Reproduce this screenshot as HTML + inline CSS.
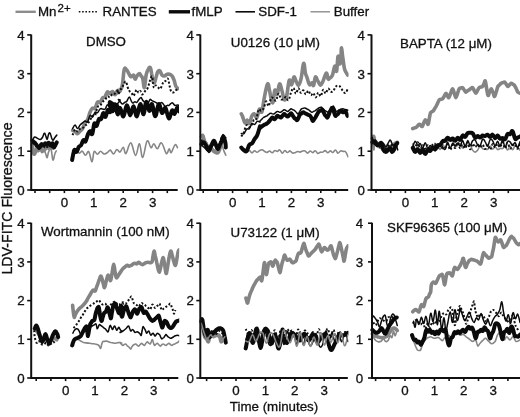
<!DOCTYPE html>
<html><head><meta charset="utf-8"><title>LDV-FITC Fluorescence</title>
<style>html,body{margin:0;padding:0;background:#fff;}body{width:520px;height:417px;overflow:hidden;font-family:"Liberation Sans",sans-serif;}</style></head>
<body>
<svg width="520" height="417" viewBox="0 0 520 417" style="display:block;will-change:transform;filter:grayscale(1)" font-family="'Liberation Sans', sans-serif" font-size="13.33" fill="#111"><style>text{stroke:#111;stroke-width:0.3px;}</style>
<g><clipPath id="cp1"><rect x="0" y="0" width="179.0" height="417"/></clipPath>
<g clip-path="url(#cp1)">
<path d="M32.3 147.1C32.7 147.6 33.5 149.8 34.2 149.9C35.0 150.1 35.4 147.7 36.2 148.0C36.9 148.4 37.3 151.7 38.1 151.9C38.8 152.0 39.3 148.8 40.0 149.0C40.7 149.2 41.2 152.6 41.9 152.8C42.6 153.0 43.1 149.8 43.8 149.9C44.6 150.1 45.1 152.3 45.7 153.8C46.4 155.2 46.6 158.0 47.2 157.6C47.7 157.2 47.9 153.5 48.6 151.9C49.4 150.2 50.2 147.4 51.0 149.0C51.8 150.5 52.2 159.1 52.9 160.0C53.7 160.9 54.2 155.5 54.9 153.8C55.5 152.0 56.0 151.4 56.3 150.9" fill="none" stroke="#868686" stroke-width="1.6" stroke-linejoin="round" stroke-linecap="round"/>
<path d="M72.6 150.5C73.2 150.3 74.6 148.5 75.8 149.0C77.0 149.5 77.8 152.7 79.0 153.1C80.3 153.5 81.0 150.8 82.3 151.2C83.5 151.6 84.3 155.2 85.5 155.3C86.7 155.4 87.5 150.4 88.7 151.6C90.0 152.9 91.0 161.8 92.0 161.8C93.0 161.8 93.1 153.1 94.1 151.6C95.2 150.2 96.1 154.3 97.4 154.2C98.6 154.1 99.4 151.2 100.6 151.2C101.8 151.2 102.6 153.7 103.9 154.0C105.1 154.3 105.9 153.4 107.1 152.7C108.3 152.0 109.1 149.9 110.3 150.1C111.6 150.4 112.3 154.1 113.6 154.0C114.8 153.9 115.6 149.8 116.8 149.5C118.0 149.1 118.8 152.5 120.0 152.1C121.3 151.6 122.2 147.0 123.3 147.3C124.4 147.6 124.5 154.3 126.0 153.5C127.4 152.6 128.9 142.5 130.8 142.9C132.6 143.2 133.9 155.2 135.6 155.4C137.2 155.6 138.1 143.5 139.4 143.8C140.8 144.2 141.2 157.9 142.7 157.3C144.2 156.8 145.5 142.8 147.1 141.0C148.7 139.1 149.7 147.1 151.0 147.7C152.2 148.2 152.6 143.7 153.8 143.8C155.1 144.0 155.8 148.8 157.3 148.7C158.8 148.5 159.8 142.0 161.5 142.9C163.3 143.8 164.9 152.4 166.3 153.5C167.8 154.6 168.3 148.8 169.2 148.7C170.1 148.5 170.1 153.2 171.2 152.5C172.2 151.8 173.8 145.7 175.0 144.8C176.2 143.9 177.0 147.1 177.5 147.7" fill="none" stroke="#868686" stroke-width="1.6" stroke-linejoin="round" stroke-linecap="round"/>
<path d="M32.3 144.2C32.6 146.0 33.1 152.3 33.8 153.8C34.4 155.2 34.9 153.0 35.7 151.9C36.4 150.8 36.9 148.4 37.6 148.0C38.3 147.7 38.8 149.8 39.5 149.9C40.2 150.1 40.7 148.8 41.4 149.0C42.2 149.2 42.6 150.9 43.3 150.9C44.1 150.9 44.5 149.7 45.3 149.0C46.0 148.3 46.5 147.2 47.2 147.1C47.9 147.0 48.4 148.6 49.1 148.5C49.8 148.4 50.3 146.7 51.0 146.6C51.8 146.5 52.6 147.7 52.9 148.0" fill="none" stroke="#848484" stroke-width="3.6" stroke-linejoin="round" stroke-linecap="round"/>
<path d="M72.6 130.4C73.0 130.6 74.1 130.9 75.1 131.5C76.0 132.2 76.6 133.9 77.6 133.8C78.5 133.7 79.1 132.0 80.1 131.0C81.0 130.0 81.6 130.2 82.6 128.6C83.5 127.0 84.1 124.3 85.1 122.7C86.0 121.0 86.6 121.8 87.5 119.8C88.5 117.8 89.1 114.4 90.0 112.2C91.0 110.0 91.6 108.9 92.5 108.2C93.5 107.5 94.1 109.5 95.0 108.4C96.0 107.2 96.6 103.2 97.5 102.1C98.5 101.0 99.1 103.1 100.0 102.4C101.0 101.6 101.6 99.2 102.5 98.1C103.5 97.1 104.1 98.0 105.0 96.8C106.0 95.5 106.6 92.4 107.5 91.8C108.5 91.2 109.1 93.5 110.0 93.4C111.0 93.4 111.6 91.3 112.5 91.5C113.5 91.8 114.1 94.9 115.0 94.7C116.0 94.5 116.6 91.2 117.5 90.6C118.5 89.9 119.6 91.1 120.0 91.3" fill="none" stroke="#848484" stroke-width="3.6" stroke-linejoin="round" stroke-linecap="round"/>
<path d="M120.0 90.1C119.6 90.6 117.4 92.9 117.6 92.8C117.7 92.6 120.0 91.2 120.9 89.4C121.9 87.7 122.0 87.4 122.6 83.5C123.2 79.7 123.5 71.8 124.3 69.3C125.1 66.7 125.9 69.3 126.8 70.1C127.6 70.9 128.0 72.2 128.8 73.5C129.6 74.7 130.1 76.5 131.0 76.8C131.9 77.1 132.7 74.7 133.5 75.1C134.3 75.6 134.5 79.2 135.2 79.3C135.8 79.5 136.1 77.1 136.9 76.0C137.7 74.9 138.6 73.5 139.4 73.5C140.2 73.5 140.4 75.0 141.1 76.0C141.7 76.9 142.1 76.3 142.7 78.5C143.4 80.7 143.8 88.4 144.4 87.7C145.1 87.1 145.4 78.7 146.1 75.1C146.8 71.6 147.5 70.7 148.3 69.3C149.1 67.8 149.7 66.8 150.3 67.6C150.9 68.4 151.2 71.1 151.6 73.5C152.1 75.9 152.3 78.4 152.8 80.2C153.3 81.9 153.8 83.3 154.5 82.7C155.1 82.1 155.5 78.9 156.2 76.8C156.8 74.7 157.1 72.9 157.8 71.8C158.5 70.7 159.1 70.3 159.9 70.9C160.7 71.6 161.1 74.2 162.0 75.1C162.9 76.1 163.6 76.1 164.6 76.0C165.5 75.8 166.1 74.6 167.1 74.3C168.0 74.0 168.6 74.0 169.6 74.3C170.6 74.6 171.3 74.9 172.1 76.0C173.0 77.1 173.4 78.3 174.1 80.2C174.8 82.1 175.1 84.5 175.8 86.1C176.5 87.7 177.6 88.1 178.0 88.6" fill="none" stroke="#848484" stroke-width="3.6" stroke-linejoin="round" stroke-linecap="round"/>
<path d="M32.3 143.2C32.8 143.4 33.8 143.4 34.7 144.2C35.6 145.0 36.2 146.6 37.1 147.5C38.0 148.5 38.7 149.2 39.5 149.0C40.3 148.8 40.7 146.8 41.4 146.6C42.2 146.4 42.6 148.2 43.3 148.0C44.1 147.8 44.5 145.8 45.3 145.6C46.0 145.4 46.5 147.2 47.2 147.1C47.9 147.0 48.4 145.0 49.1 145.1C49.8 145.3 50.3 147.9 51.0 148.0C51.8 148.1 52.2 145.9 52.9 145.6C53.7 145.4 54.1 146.9 54.9 146.6C55.6 146.3 56.4 144.6 56.8 144.2" fill="none" stroke="#111" stroke-width="2.0" stroke-linejoin="round" stroke-linecap="butt" stroke-dasharray="2 1.9"/>
<path d="M72.6 135.1C73.0 134.1 74.1 130.3 75.1 129.6C76.0 129.0 76.6 131.7 77.6 131.6C78.5 131.4 79.1 129.5 80.1 128.8C81.0 128.2 81.6 128.8 82.6 128.2C83.5 127.6 84.1 126.5 85.1 125.6C86.0 124.8 86.6 124.8 87.5 123.8C88.5 122.8 89.1 121.7 90.0 120.2C91.0 118.7 91.6 116.8 92.5 115.8C93.5 114.9 94.1 117.0 95.0 115.4C96.0 113.8 96.6 109.1 97.5 107.3C98.5 105.4 99.1 106.8 100.0 105.8C101.0 104.8 101.6 103.0 102.5 101.9C103.5 100.7 104.1 100.9 105.0 99.9C106.0 98.8 106.6 96.9 107.5 96.4C108.5 95.8 109.1 97.7 110.0 97.2C111.0 96.7 111.6 94.4 112.5 93.8C113.5 93.1 114.1 93.9 115.0 93.6C116.0 93.2 116.6 92.0 117.5 92.0C118.5 92.0 119.6 93.1 120.0 93.4" fill="none" stroke="#111" stroke-width="2.0" stroke-linejoin="round" stroke-linecap="butt" stroke-dasharray="2 1.9"/>
<path d="M120.0 93.3C119.4 93.0 116.9 92.4 116.7 91.7C116.6 91.0 118.3 90.2 119.2 89.5C120.2 88.9 120.9 89.4 121.8 88.3C122.6 87.3 123.0 85.4 123.8 84.1C124.6 82.8 125.2 81.0 125.9 81.6C126.7 82.2 127.0 85.4 127.6 87.2C128.3 88.9 128.6 89.7 129.3 90.8C130.0 91.9 130.7 91.9 131.5 92.8C132.3 93.8 132.8 96.0 133.5 95.9C134.2 95.8 134.5 93.5 135.2 92.3C135.8 91.2 136.2 89.7 136.9 89.8C137.5 89.8 137.9 92.5 138.5 92.7C139.2 93.0 139.6 90.7 140.2 91.0C140.9 91.3 141.3 93.9 141.9 94.3C142.5 94.7 142.9 93.9 143.6 93.1C144.3 92.4 144.8 91.4 145.6 90.4C146.4 89.4 146.9 89.7 147.8 87.8C148.6 85.9 149.2 82.6 150.0 80.5C150.8 78.3 151.4 75.9 152.0 76.4C152.5 76.9 152.6 80.7 153.0 82.9C153.4 85.0 153.4 87.2 154.0 87.7C154.5 88.2 155.1 85.5 155.8 85.4C156.6 85.3 157.0 86.5 157.8 87.2C158.7 87.8 159.6 89.2 160.4 88.8C161.2 88.3 161.4 86.1 162.0 84.8C162.7 83.5 163.0 82.7 163.7 81.9C164.4 81.1 164.9 81.4 165.7 80.7C166.5 80.1 167.2 77.7 167.9 78.7C168.6 79.7 169.0 83.5 169.6 86.0C170.2 88.5 170.5 90.4 171.3 91.7C172.1 92.9 172.9 92.6 173.8 92.3C174.7 92.0 175.0 90.8 175.8 90.2C176.6 89.6 177.6 89.2 178.0 89.0" fill="none" stroke="#111" stroke-width="2.0" stroke-linejoin="round" stroke-linecap="butt" stroke-dasharray="2 1.9"/>
<path d="M32.3 140.3C32.8 139.7 33.7 137.4 34.7 137.0C35.7 136.6 36.5 138.0 37.6 138.4C38.7 138.9 39.6 139.6 40.5 139.4C41.4 139.2 41.7 138.7 42.4 137.5C43.1 136.3 43.7 133.5 44.3 133.2C44.9 132.8 45.2 134.4 45.7 135.6C46.3 136.7 46.6 139.7 47.2 139.4C47.7 139.1 48.1 135.3 48.6 134.1C49.2 132.9 49.5 132.5 50.1 133.2C50.6 133.8 51.0 136.1 51.5 137.5C52.0 138.8 52.3 140.3 52.9 140.3C53.6 140.3 54.1 138.5 54.9 137.5C55.6 136.5 56.4 135.5 56.8 135.1" fill="none" stroke="#0a0a0a" stroke-width="1.5" stroke-linejoin="round" stroke-linecap="round"/>
<path d="M72.6 128.7C73.0 128.1 74.1 125.1 75.1 125.1C76.0 125.1 76.6 128.6 77.6 128.6C78.5 128.6 79.1 126.2 80.1 125.1C81.0 124.0 81.6 123.6 82.6 122.8C83.5 122.1 84.1 121.3 85.1 121.1C86.0 120.9 86.6 122.9 87.5 121.9C88.5 120.8 89.1 116.4 90.0 115.5C91.0 114.6 91.6 117.7 92.5 117.1C93.5 116.5 94.1 113.1 95.0 112.2C96.0 111.4 96.6 113.3 97.5 112.7C98.5 112.1 99.1 109.7 100.0 109.0C101.0 108.2 101.6 108.8 102.5 108.9C103.5 108.9 104.1 110.0 105.0 109.2C106.0 108.4 106.6 104.9 107.5 104.7C108.5 104.5 109.1 108.4 110.0 108.2C111.0 107.9 111.6 104.1 112.5 103.4C113.5 102.7 114.1 104.4 115.0 104.4C116.0 104.5 116.6 104.3 117.5 103.6C118.5 102.8 119.6 101.1 120.0 100.5" fill="none" stroke="#0a0a0a" stroke-width="1.5" stroke-linejoin="round" stroke-linecap="round"/>
<path d="M120.0 99.8C119.7 99.8 118.3 99.1 118.4 99.5C118.5 99.9 119.6 101.1 120.4 102.0C121.2 102.9 121.8 104.0 122.6 104.0C123.4 104.1 124.0 102.9 124.8 102.3C125.6 101.8 125.9 102.2 126.8 101.2C127.6 100.1 128.5 97.1 129.3 97.0C130.1 96.8 130.3 99.2 131.0 100.3C131.6 101.5 131.9 102.8 132.7 103.0C133.4 103.3 134.0 101.8 134.8 101.7C135.6 101.5 136.1 102.8 136.9 102.3C137.6 101.9 138.1 100.4 138.9 99.5C139.7 98.6 140.4 97.6 141.1 97.6C141.7 97.7 141.9 99.0 142.4 99.7C142.9 100.4 143.0 100.7 143.6 101.3C144.2 101.9 144.8 102.4 145.6 102.8C146.4 103.3 147.1 104.2 147.8 103.9C148.4 103.5 148.6 102.0 149.1 101.2C149.6 100.3 149.7 99.4 150.3 99.3C150.8 99.2 151.3 100.3 152.0 100.7C152.6 101.0 152.8 100.9 153.6 101.3C154.4 101.7 155.2 102.2 156.2 102.7C157.1 103.2 157.9 103.8 158.7 103.9C159.5 103.9 159.7 103.2 160.4 103.0C161.0 102.8 161.4 102.4 162.0 102.7C162.7 103.0 163.1 104.0 163.7 104.7C164.4 105.4 164.8 106.2 165.4 106.4C166.0 106.5 166.4 105.5 167.1 105.4C167.7 105.2 168.1 105.8 168.8 105.5C169.5 105.2 170.1 104.2 170.8 103.7C171.5 103.1 171.9 102.5 172.4 102.7C173.0 102.8 173.3 103.8 173.8 104.4C174.3 104.9 174.5 105.4 175.1 105.5C175.8 105.6 176.4 104.9 177.1 104.9C177.9 104.8 178.8 105.3 179.2 105.4" fill="none" stroke="#0a0a0a" stroke-width="1.5" stroke-linejoin="round" stroke-linecap="round"/>
<path d="M32.3 140.8C32.8 141.2 33.8 141.8 34.7 142.7C35.6 143.7 36.2 144.7 37.1 145.6C38.0 146.5 38.7 147.8 39.5 147.5C40.3 147.3 40.7 144.5 41.4 144.2C42.2 143.8 42.6 145.8 43.3 145.6C44.1 145.4 44.5 143.4 45.3 143.2C46.0 143.0 46.5 144.8 47.2 144.7C47.8 144.6 48.0 142.6 48.6 142.7C49.3 142.9 49.8 145.5 50.5 145.6C51.3 145.7 51.8 142.9 52.5 143.2C53.1 143.6 53.3 147.4 53.9 147.5C54.5 147.7 55.3 145.2 55.8 144.2C56.4 143.2 56.6 142.6 56.8 142.3" fill="none" stroke="#0a0a0a" stroke-width="4.0" stroke-linejoin="round" stroke-linecap="round"/>
<path d="M72.1 160.0C72.5 158.1 73.5 151.6 74.4 150.0C75.2 148.5 75.7 152.5 76.6 151.9C77.4 151.3 78.0 148.1 78.8 146.9C79.7 145.6 80.2 146.6 81.0 145.3C81.9 144.1 82.4 141.1 83.3 140.3C84.1 139.6 84.7 142.4 85.5 141.4C86.4 140.3 86.9 136.9 87.7 134.9C88.6 133.0 89.1 131.3 90.0 131.1C90.8 130.9 91.3 135.4 92.2 134.0C93.0 132.6 93.6 125.1 94.4 123.5C95.3 122.0 95.8 126.8 96.7 125.9C97.5 125.1 98.0 120.4 98.9 119.1C99.7 117.7 100.3 120.2 101.1 119.1C102.0 117.9 102.5 113.4 103.3 113.0C104.2 112.5 104.7 117.4 105.6 116.8C106.4 116.2 107.0 110.9 107.8 110.0C108.7 109.1 109.2 112.3 110.0 112.2C110.9 112.1 111.4 110.1 112.3 109.5C113.1 108.9 113.7 110.1 114.5 109.2C115.3 108.4 115.9 104.5 116.7 105.0C117.6 105.4 118.5 110.4 119.0 111.7" fill="none" stroke="#0a0a0a" stroke-width="4.0" stroke-linejoin="round" stroke-linecap="round"/>
<path d="M119.0 110.4C117.3 108.8 111.2 101.9 110.0 102.1C108.8 102.2 111.6 110.7 112.5 111.1C113.5 111.5 114.1 103.5 115.0 104.2C116.0 104.8 116.6 113.5 117.6 114.3C118.5 115.0 119.0 107.6 120.1 108.0C121.2 108.5 122.2 117.0 123.4 116.5C124.7 115.9 125.5 105.5 126.8 105.3C128.1 105.1 128.9 115.2 130.1 115.4C131.4 115.6 132.2 106.1 133.5 106.3C134.8 106.5 135.6 116.8 136.9 116.4C138.1 115.9 138.9 104.5 140.2 104.1C141.5 103.7 142.5 114.7 143.6 114.3C144.7 113.9 145.0 102.6 146.1 102.0C147.2 101.3 148.3 110.5 149.4 110.9C150.6 111.3 150.9 103.0 152.0 104.0C153.1 105.0 154.0 116.3 155.3 116.3C156.6 116.3 157.4 104.6 158.7 104.0C160.0 103.4 160.8 112.3 162.0 113.0C163.3 113.8 164.1 106.9 165.4 107.9C166.7 108.9 167.5 117.9 168.8 118.4C170.0 118.9 171.0 111.2 172.1 110.3C173.2 109.5 173.7 114.4 174.6 113.9C175.6 113.4 176.3 108.1 177.1 107.7C178.0 107.2 178.8 110.7 179.2 111.4" fill="none" stroke="#0a0a0a" stroke-width="4.0" stroke-linejoin="round" stroke-linecap="round"/>
</g>
<path d="M31.2 34.4 V190.0 H177.7" fill="none" stroke="#111" stroke-width="2"/>
<path d="M31.2 190.0 h-4" stroke="#111" stroke-width="1.6"/>
<text x="24.7" y="194.8" text-anchor="end">0</text>
<path d="M31.2 151.2 h-4" stroke="#111" stroke-width="1.6"/>
<text x="24.7" y="156.0" text-anchor="end">1</text>
<path d="M31.2 112.4 h-4" stroke="#111" stroke-width="1.6"/>
<text x="24.7" y="117.2" text-anchor="end">2</text>
<path d="M31.2 73.7 h-4" stroke="#111" stroke-width="1.6"/>
<text x="24.7" y="78.5" text-anchor="end">3</text>
<path d="M31.2 34.9 h-4" stroke="#111" stroke-width="1.6"/>
<text x="24.7" y="39.7" text-anchor="end">4</text>
<path d="M35.0 190.0 v3.1" stroke="#111" stroke-width="1.6"/>
<path d="M49.7 190.0 v3.1" stroke="#111" stroke-width="1.6"/>
<path d="M64.4 190.0 v3.1" stroke="#111" stroke-width="1.6"/>
<path d="M79.1 190.0 v3.1" stroke="#111" stroke-width="1.6"/>
<path d="M93.8 190.0 v3.1" stroke="#111" stroke-width="1.6"/>
<path d="M108.5 190.0 v3.1" stroke="#111" stroke-width="1.6"/>
<path d="M123.2 190.0 v3.1" stroke="#111" stroke-width="1.6"/>
<path d="M137.9 190.0 v3.1" stroke="#111" stroke-width="1.6"/>
<path d="M152.6 190.0 v3.1" stroke="#111" stroke-width="1.6"/>
<path d="M167.3 190.0 v3.1" stroke="#111" stroke-width="1.6"/>
<text x="64.4" y="206.9" text-anchor="middle">0</text>
<text x="93.8" y="206.9" text-anchor="middle">1</text>
<text x="123.2" y="206.9" text-anchor="middle">2</text>
<text x="152.6" y="206.9" text-anchor="middle">3</text>
<text x="86.0" y="46.0">DMSO</text></g>
<g><clipPath id="cp2"><rect x="0" y="0" width="348.6" height="417"/></clipPath>
<g clip-path="url(#cp2)">
<path d="M201.3 140.3C201.8 141.1 202.7 142.9 203.7 144.2C204.7 145.5 205.5 145.8 206.6 147.1C207.7 148.3 208.4 150.5 209.5 150.9C210.6 151.3 211.3 149.0 212.3 149.0C213.4 149.0 214.1 150.0 215.2 150.9C216.3 151.8 217.2 154.1 218.1 153.8C219.0 153.4 219.4 150.8 220.0 149.0C220.7 147.2 220.7 143.8 221.5 144.2C222.2 144.5 223.0 148.8 223.9 150.9C224.7 153.0 225.4 154.4 225.8 155.2" fill="none" stroke="#868686" stroke-width="1.6" stroke-linejoin="round" stroke-linecap="round"/>
<path d="M241.9 150.1C242.4 149.8 243.5 148.4 244.4 148.6C245.4 148.8 246.0 150.8 247.0 151.1C247.9 151.5 248.5 150.2 249.5 150.5C250.4 150.8 251.1 152.8 252.0 152.9C253.0 152.9 253.6 150.9 254.5 150.8C255.5 150.7 256.1 152.4 257.1 152.3C258.0 152.3 258.6 151.0 259.6 150.6C260.6 150.1 261.2 149.6 262.1 149.8C263.1 150.0 263.7 151.0 264.7 151.5C265.6 152.0 266.2 152.5 267.2 152.4C268.1 152.3 268.7 150.9 269.7 151.0C270.7 151.1 271.3 152.9 272.2 152.8C273.2 152.7 273.8 150.8 274.8 150.5C275.7 150.2 276.3 151.5 277.3 151.4C278.2 151.2 278.9 149.5 279.8 149.9C280.8 150.2 281.4 153.0 282.3 153.1C283.3 153.2 283.9 150.6 284.9 150.5C285.8 150.4 286.4 152.5 287.4 152.5C288.4 152.6 289.0 150.8 289.9 150.9C290.9 151.0 291.5 152.6 292.4 153.0C293.4 153.3 294.0 153.0 295.0 152.7C295.9 152.5 296.5 151.6 297.5 151.5C298.5 151.4 299.1 152.2 300.0 152.1C301.0 152.0 301.6 151.2 302.6 151.0C303.5 150.8 304.1 150.6 305.1 151.0C306.0 151.4 306.6 153.1 307.6 153.1C308.6 153.1 309.2 151.1 310.1 151.0C311.1 150.9 311.7 152.6 312.7 152.6C313.6 152.5 314.2 150.5 315.2 150.7C316.2 150.8 316.8 153.1 317.7 153.4C318.7 153.7 319.3 152.4 320.2 152.2C321.2 152.0 321.8 152.4 322.8 152.1C323.7 151.8 324.3 150.5 325.3 150.6C326.3 150.7 326.9 152.7 327.8 152.7C328.8 152.8 329.4 150.9 330.4 150.9C331.3 150.8 331.9 152.7 332.9 152.5C333.8 152.3 334.4 149.9 335.4 150.0C336.4 150.1 337.0 153.0 337.9 153.2C338.9 153.4 339.5 151.3 340.5 151.0C341.4 150.6 342.0 151.3 343.0 151.4C343.9 151.6 344.6 150.8 345.5 151.8C346.5 152.8 347.6 155.8 348.0 156.7" fill="none" stroke="#868686" stroke-width="1.6" stroke-linejoin="round" stroke-linecap="round"/>
<path d="M201.3 136.5C201.6 136.3 202.1 134.6 202.8 135.6C203.4 136.5 203.9 139.7 204.7 141.3C205.4 142.9 205.9 142.7 206.6 144.2C207.3 145.6 207.7 148.3 208.5 149.0C209.3 149.7 210.0 147.7 210.9 148.0C211.8 148.4 212.3 150.0 213.3 150.9C214.3 151.8 215.2 152.6 216.2 152.8C217.2 153.0 217.8 153.0 218.6 151.9C219.4 150.8 219.8 149.1 220.5 147.1C221.2 145.1 222.1 142.4 222.4 141.3" fill="none" stroke="#848484" stroke-width="3.6" stroke-linejoin="round" stroke-linecap="round"/>
<path d="M241.3 113.8C241.5 114.3 241.8 114.5 242.5 116.2C243.2 117.9 244.0 122.0 244.8 122.8C245.7 123.5 246.3 119.9 247.2 120.0C248.1 120.2 248.7 124.4 249.6 123.5C250.4 122.7 251.0 117.6 251.9 115.8C252.8 113.9 253.3 113.5 254.3 113.8C255.2 114.2 256.0 118.6 256.9 117.7C257.9 116.8 258.3 110.3 259.3 109.2C260.2 108.1 261.0 113.7 261.9 111.9C262.8 110.1 262.9 104.8 264.0 99.5C265.0 94.2 266.4 85.7 267.5 84.0C268.5 82.3 268.8 87.6 269.5 90.6C270.3 93.5 270.6 97.3 271.3 99.5C272.0 101.7 272.4 104.0 273.1 102.2C273.7 100.4 274.1 91.6 274.8 90.2C275.6 88.7 276.3 95.6 277.2 94.4C278.1 93.3 278.6 84.7 279.5 84.0C280.4 83.2 281.0 87.6 281.9 90.6C282.8 93.5 283.4 98.4 284.2 99.5C285.1 100.6 285.6 100.0 286.6 96.4C287.5 92.8 288.3 82.7 289.2 80.5C290.2 78.3 290.7 85.4 291.6 84.7C292.5 84.1 293.1 77.6 293.9 77.0C294.8 76.4 295.4 80.1 296.3 81.6C297.2 83.2 297.8 85.6 298.6 85.1C299.5 84.6 300.1 83.0 301.0 78.9C302.0 74.8 302.8 64.5 303.6 63.4C304.5 62.3 304.7 70.3 305.4 73.1C306.1 75.9 306.4 75.9 307.2 78.1C308.0 80.4 308.6 83.9 309.5 84.7C310.4 85.6 311.1 82.7 311.9 82.8C312.7 82.9 313.0 86.6 313.6 85.5C314.3 84.4 314.6 77.9 315.4 77.0C316.2 76.1 316.8 79.3 317.8 80.9C318.7 82.4 319.5 85.0 320.4 85.1C321.4 85.3 321.6 83.9 322.8 81.6C323.9 79.4 325.3 73.6 326.3 73.1C327.3 72.6 327.4 78.0 328.1 78.9C328.7 79.9 329.0 78.9 329.8 78.1C330.7 77.4 331.5 77.3 332.5 75.0C333.4 72.8 334.0 66.9 334.8 66.1C335.6 65.4 336.0 73.0 336.6 71.2C337.2 69.3 337.5 58.4 338.0 56.4C338.5 54.4 338.8 59.3 339.2 60.7C339.6 62.1 339.8 64.7 340.1 63.8C340.4 62.8 340.7 58.7 341.0 55.6C341.3 52.6 341.2 47.5 341.6 47.9C341.9 48.2 342.2 53.9 342.8 57.6C343.3 61.3 343.7 64.7 344.2 67.3C344.7 69.9 344.7 69.7 345.4 71.2C346.1 72.6 347.3 74.3 347.7 75.0" fill="none" stroke="#848484" stroke-width="3.6" stroke-linejoin="round" stroke-linecap="round"/>
<path d="M201.3 139.4C201.9 140.5 203.1 143.3 204.2 145.1C205.3 147.0 206.1 147.9 207.1 149.0C208.1 150.1 208.6 151.5 209.5 150.9C210.4 150.3 211.0 147.1 211.9 145.6C212.8 144.2 213.4 142.8 214.3 143.2C215.2 143.7 215.8 147.7 216.7 148.0C217.6 148.4 218.2 146.8 219.1 145.1C219.9 143.5 220.3 141.2 221.0 139.4C221.7 137.6 222.3 135.4 222.9 135.6C223.5 135.7 223.8 139.6 224.3 140.3C224.9 141.1 225.5 139.6 225.8 139.4" fill="none" stroke="#111" stroke-width="2.0" stroke-linejoin="round" stroke-linecap="butt" stroke-dasharray="2 1.9"/>
<path d="M241.3 136.5C241.8 135.7 242.9 134.7 243.8 132.6C244.7 130.5 245.3 126.3 246.3 125.2C247.2 124.2 247.8 127.2 248.8 127.3C249.7 127.3 250.3 126.9 251.2 125.6C252.2 124.3 252.8 121.6 253.7 120.4C254.7 119.2 255.3 121.4 256.2 119.3C257.2 117.3 257.8 111.3 258.7 109.7C259.6 108.0 260.2 111.0 261.2 110.7C262.1 110.5 262.7 110.0 263.7 108.2C264.6 106.5 265.2 101.9 266.1 101.4C267.1 101.0 267.7 106.6 268.6 106.0C269.6 105.3 270.2 99.5 271.1 98.0C272.0 96.6 272.6 98.0 273.6 98.4C274.5 98.9 275.1 101.4 276.1 100.5C277.0 99.6 277.6 93.9 278.5 93.7C279.5 93.4 280.1 98.2 281.0 99.2C282.0 100.2 282.6 99.3 283.5 98.9C284.5 98.5 285.1 96.8 286.0 97.0C286.9 97.2 287.5 100.9 288.5 100.1C289.4 99.2 290.0 95.0 291.0 92.8C291.9 90.5 292.5 87.9 293.4 88.1C294.4 88.2 295.0 93.5 295.9 93.6C296.9 93.6 297.5 88.5 298.4 88.3C299.3 88.2 299.9 92.4 300.9 92.8C301.8 93.2 302.4 90.1 303.4 90.4C304.3 90.7 304.9 94.3 305.8 94.3C306.8 94.4 307.4 90.6 308.3 90.7C309.3 90.9 309.9 94.6 310.8 95.1C311.8 95.5 312.4 92.6 313.3 93.1C314.2 93.5 314.8 97.5 315.8 97.4C316.7 97.3 317.3 92.9 318.3 92.7C319.2 92.5 319.8 96.7 320.7 96.2C321.7 95.6 322.3 90.4 323.2 89.8C324.2 89.3 324.8 93.6 325.7 93.4C326.6 93.2 327.2 88.9 328.2 88.6C329.1 88.3 329.7 91.2 330.7 91.6C331.6 92.1 332.2 92.0 333.2 91.1C334.1 90.2 334.7 87.8 335.6 86.7C336.6 85.7 337.2 85.5 338.1 85.6C339.1 85.7 339.7 86.1 340.6 87.2C341.5 88.3 342.1 90.2 343.1 91.3C344.0 92.4 344.6 93.5 345.6 92.9C346.5 92.3 347.6 89.1 348.0 88.2" fill="none" stroke="#111" stroke-width="2.0" stroke-linejoin="round" stroke-linecap="butt" stroke-dasharray="2 1.9"/>
<path d="M201.3 145.1C202.0 145.7 203.5 146.9 204.7 148.0C205.9 149.1 206.6 150.1 207.6 150.9C208.5 151.7 208.6 153.1 209.5 152.3C210.3 151.6 211.0 148.6 211.9 147.1C212.8 145.5 213.4 144.2 214.3 144.2C215.2 144.2 215.8 147.1 216.7 147.1C217.6 147.1 218.2 145.5 219.1 144.2C219.9 142.9 220.3 142.2 221.0 140.3C221.7 138.5 222.3 134.8 222.9 134.6C223.5 134.4 223.8 138.8 224.3 139.4C224.9 139.9 225.5 137.8 225.8 137.5" fill="none" stroke="#0a0a0a" stroke-width="1.5" stroke-linejoin="round" stroke-linecap="round"/>
<path d="M241.3 133.4C241.8 133.4 243.0 134.5 244.0 133.7C245.0 132.9 245.6 130.1 246.7 129.1C247.7 128.2 248.3 129.8 249.3 128.8C250.3 127.7 251.0 124.5 252.0 123.7C253.0 122.9 253.6 124.9 254.7 124.4C255.7 124.0 256.3 121.8 257.3 121.4C258.3 120.9 259.5 121.9 260.0 122.0" fill="none" stroke="#0a0a0a" stroke-width="1.5" stroke-linejoin="round" stroke-linecap="round"/>
<path d="M260.0 121.0C260.3 120.6 261.1 119.9 261.7 119.2C262.4 118.6 262.8 118.0 263.5 117.5C264.1 117.0 264.5 117.0 265.2 116.6C265.8 116.3 266.3 116.2 266.9 115.8C267.6 115.3 268.0 114.9 268.7 114.4C269.3 113.9 269.7 113.3 270.4 113.2C271.0 113.0 271.5 113.5 272.1 113.7C272.8 113.8 273.2 114.2 273.8 114.0C274.5 113.8 274.9 113.1 275.6 112.6C276.2 112.2 276.6 111.6 277.3 111.4C278.0 111.3 278.4 111.8 279.0 112.0C279.7 112.1 280.1 112.5 280.8 112.3C281.4 112.1 281.8 111.4 282.5 110.9C283.1 110.4 283.6 109.8 284.2 109.7C284.9 109.6 285.3 110.2 286.0 110.6C286.6 110.9 287.0 111.5 287.7 111.4C288.3 111.3 288.8 110.5 289.4 110.1C290.1 109.6 290.5 108.9 291.1 108.8C291.8 108.8 292.2 109.4 292.9 109.7C293.5 110.0 293.9 110.1 294.6 110.6C295.3 111.1 295.7 111.6 296.3 112.3C297.0 113.0 297.4 114.2 298.1 114.0C298.7 113.9 299.1 112.4 299.8 111.4C300.4 110.4 300.9 109.4 301.5 108.8C302.2 108.2 302.6 108.5 303.3 108.3C303.9 108.2 304.3 107.9 305.0 108.0C305.6 108.1 306.1 108.5 306.7 108.8C307.4 109.2 307.8 109.3 308.4 109.7C309.1 110.1 309.5 110.6 310.2 111.1C310.8 111.6 311.2 112.2 311.9 112.3C312.6 112.4 313.0 111.8 313.6 111.4C314.3 111.1 314.7 111.0 315.4 110.6C316.0 110.1 316.4 109.7 317.1 109.2C317.8 108.7 318.2 108.3 318.8 108.0C319.4 107.6 319.7 107.6 320.2 107.5C320.7 107.3 320.9 106.8 321.4 107.1C322.0 107.4 322.5 108.2 323.1 108.8C323.8 109.5 324.2 110.1 324.9 110.6C325.5 111.1 326.0 111.1 326.6 111.4C327.3 111.8 327.7 112.6 328.3 112.3C328.9 112.0 329.2 110.7 329.7 109.7C330.2 108.7 330.4 107.7 330.9 107.1C331.4 106.5 331.8 106.8 332.3 106.6C332.8 106.4 333.0 105.8 333.5 106.2C334.0 106.7 334.4 107.9 334.9 108.8C335.4 109.8 335.6 111.1 336.1 111.4C336.7 111.8 337.2 110.9 337.9 110.6C338.5 110.2 338.9 110.0 339.6 109.7C340.2 109.4 340.7 109.4 341.3 109.2C342.0 109.0 342.4 108.8 343.0 108.8C343.7 108.9 344.1 109.2 344.8 109.4C345.4 109.5 345.9 109.5 346.5 109.7C347.1 109.9 347.6 110.1 347.9 110.2" fill="none" stroke="#0a0a0a" stroke-width="1.5" stroke-linejoin="round" stroke-linecap="round"/>
<path d="M201.3 144.2C201.8 143.8 202.8 142.0 203.7 142.3C204.6 142.5 205.2 144.2 206.1 145.6C207.0 147.1 207.5 150.0 208.5 149.9C209.5 149.8 210.4 146.9 211.4 145.1C212.4 143.4 213.0 141.0 213.8 140.8C214.6 140.6 215.0 142.6 215.7 144.2C216.4 145.7 216.9 148.7 217.6 149.0C218.4 149.3 218.8 147.1 219.5 145.6C220.3 144.2 220.7 143.0 221.5 141.3C222.2 139.6 222.6 136.3 223.4 136.5C224.1 136.7 224.8 140.2 225.3 142.3C225.8 144.4 225.7 146.5 225.8 147.5" fill="none" stroke="#0a0a0a" stroke-width="4.0" stroke-linejoin="round" stroke-linecap="round"/>
<path d="M241.3 147.5C241.8 148.1 243.0 149.6 244.0 150.3C245.0 151.0 245.6 152.1 246.7 151.1C247.7 150.0 248.3 146.4 249.3 144.9C250.3 143.5 251.0 144.5 252.0 143.4C253.0 142.3 253.6 140.5 254.7 138.9C255.7 137.3 256.3 137.4 257.3 135.0C258.3 132.6 259.5 127.9 260.0 126.3" fill="none" stroke="#0a0a0a" stroke-width="4.0" stroke-linejoin="round" stroke-linecap="round"/>
<path d="M260.0 127.9C260.3 127.6 261.1 127.0 261.7 126.5C262.4 126.0 262.8 125.7 263.5 125.3C264.1 124.9 264.5 124.7 265.2 124.4C265.8 124.1 266.3 123.9 266.9 123.5C267.5 123.2 267.8 122.8 268.3 122.3C268.8 121.8 269.0 121.5 269.5 121.0C270.0 120.4 270.4 119.9 270.9 119.2C271.4 118.6 271.6 117.7 272.1 117.5C272.6 117.3 273.0 118.0 273.5 118.4C274.0 118.7 274.2 119.4 274.7 119.2C275.2 119.1 275.6 118.1 276.1 117.5C276.6 116.8 276.7 115.9 277.3 115.8C277.9 115.6 278.4 116.3 279.0 116.6C279.7 117.0 280.1 117.7 280.8 117.5C281.4 117.3 281.8 116.4 282.5 115.8C283.1 115.1 283.6 114.1 284.2 114.0C284.9 114.0 285.3 114.9 286.0 115.4C286.6 115.9 287.0 116.7 287.7 116.6C288.3 116.5 288.8 115.6 289.4 114.9C290.1 114.2 290.5 113.0 291.1 113.2C291.8 113.3 292.2 114.8 292.9 115.8C293.5 116.7 294.0 117.7 294.6 118.4C295.2 119.0 295.5 118.9 296.0 119.2C296.5 119.6 296.7 120.4 297.2 120.1C297.7 119.8 298.1 118.5 298.6 117.5C299.1 116.5 299.2 115.7 299.8 114.9C300.4 114.1 300.9 114.0 301.5 113.5C302.2 113.0 302.6 112.4 303.3 112.3C303.9 112.2 304.3 112.8 305.0 113.2C305.6 113.5 306.1 113.7 306.7 114.0C307.4 114.4 307.8 114.6 308.4 114.9C309.1 115.2 309.6 115.1 310.2 115.8C310.8 116.4 311.1 117.4 311.6 118.4C312.1 119.3 312.3 120.8 312.8 121.0C313.3 121.1 313.7 119.9 314.2 119.2C314.6 118.6 314.8 118.4 315.4 117.5C315.9 116.6 316.4 115.5 317.1 114.4C317.8 113.2 318.2 112.2 318.8 111.4C319.5 110.7 319.9 110.9 320.6 110.6C321.2 110.2 321.7 109.4 322.3 109.7C322.9 110.0 323.2 111.3 323.7 112.3C324.2 113.3 324.4 114.1 324.9 114.9C325.4 115.7 325.8 115.8 326.3 116.3C326.8 116.8 327.0 117.9 327.5 117.5C328.0 117.1 328.4 115.5 328.9 114.4C329.4 113.2 329.6 112.3 330.1 111.4C330.6 110.5 331.0 110.4 331.5 109.7C331.9 109.0 332.2 107.5 332.7 108.0C333.2 108.4 333.6 110.5 334.0 112.0C334.5 113.4 334.8 115.2 335.3 115.8C335.8 116.3 336.2 115.2 336.6 114.9C337.1 114.6 337.4 114.5 337.9 114.0C338.3 113.5 338.7 113.0 339.2 112.3C339.7 111.6 340.0 110.7 340.4 110.6C340.9 110.4 341.3 111.1 341.8 111.4C342.3 111.8 342.6 112.2 343.0 112.3C343.5 112.4 343.9 111.9 344.4 111.8C344.9 111.6 345.1 110.7 345.6 111.4C346.2 112.2 347.0 114.9 347.4 115.8" fill="none" stroke="#0a0a0a" stroke-width="4.0" stroke-linejoin="round" stroke-linecap="round"/>
</g>
<path d="M200.3 34.4 V190.0 H348.2" fill="none" stroke="#111" stroke-width="2"/>
<path d="M200.3 190.0 h-4" stroke="#111" stroke-width="1.6"/>
<text x="193.8" y="194.8" text-anchor="end">0</text>
<path d="M200.3 151.2 h-4" stroke="#111" stroke-width="1.6"/>
<text x="193.8" y="156.0" text-anchor="end">1</text>
<path d="M200.3 112.4 h-4" stroke="#111" stroke-width="1.6"/>
<text x="193.8" y="117.2" text-anchor="end">2</text>
<path d="M200.3 73.7 h-4" stroke="#111" stroke-width="1.6"/>
<text x="193.8" y="78.5" text-anchor="end">3</text>
<path d="M200.3 34.9 h-4" stroke="#111" stroke-width="1.6"/>
<text x="193.8" y="39.7" text-anchor="end">4</text>
<path d="M203.2 190.0 v3.1" stroke="#111" stroke-width="1.6"/>
<path d="M217.9 190.0 v3.1" stroke="#111" stroke-width="1.6"/>
<path d="M232.6 190.0 v3.1" stroke="#111" stroke-width="1.6"/>
<path d="M247.3 190.0 v3.1" stroke="#111" stroke-width="1.6"/>
<path d="M262.0 190.0 v3.1" stroke="#111" stroke-width="1.6"/>
<path d="M276.7 190.0 v3.1" stroke="#111" stroke-width="1.6"/>
<path d="M291.4 190.0 v3.1" stroke="#111" stroke-width="1.6"/>
<path d="M306.1 190.0 v3.1" stroke="#111" stroke-width="1.6"/>
<path d="M320.8 190.0 v3.1" stroke="#111" stroke-width="1.6"/>
<path d="M335.5 190.0 v3.1" stroke="#111" stroke-width="1.6"/>
<text x="232.6" y="206.9" text-anchor="middle">0</text>
<text x="262.0" y="206.9" text-anchor="middle">1</text>
<text x="291.4" y="206.9" text-anchor="middle">2</text>
<text x="320.8" y="206.9" text-anchor="middle">3</text>
<text x="230.8" y="47.0">U0126 (10 μM)</text></g>
<g><clipPath id="cp3"><rect x="0" y="0" width="521.0" height="417"/></clipPath>
<g clip-path="url(#cp3)">
<path d="M372.3 139.4C372.6 141.4 373.3 149.0 373.8 149.9C374.2 150.9 374.2 144.9 374.7 144.2C375.3 143.5 375.7 145.4 376.6 146.1C377.5 146.8 378.2 147.5 379.5 148.0C380.8 148.6 381.9 148.9 383.3 149.0C384.8 149.1 385.7 149.0 387.2 148.5C388.6 148.0 389.7 147.4 391.0 146.6C392.3 145.8 392.8 144.4 393.9 144.2C395.0 144.0 396.2 145.4 396.8 145.6" fill="none" stroke="#868686" stroke-width="1.6" stroke-linejoin="round" stroke-linecap="round"/>
<path d="M412.8 143.9C413.2 144.9 414.3 148.2 415.2 148.8C416.2 149.4 416.8 146.6 417.7 147.2C418.7 147.7 419.3 151.4 420.2 151.6C421.2 151.7 421.8 148.0 422.7 147.8C423.7 147.7 424.3 150.5 425.2 150.7C426.2 150.9 426.8 149.0 427.7 148.9C428.7 148.9 429.3 150.7 430.2 150.7C431.2 150.7 431.8 148.8 432.7 148.8C433.7 148.8 434.3 151.1 435.2 150.7C436.2 150.4 436.8 147.4 437.7 147.1C438.7 146.8 439.3 149.8 440.2 149.3C441.1 148.8 441.7 144.9 442.7 144.6C443.6 144.2 444.2 148.1 445.2 147.4C446.1 146.8 446.7 142.7 447.7 141.3C448.6 139.9 449.2 139.9 450.2 139.8C451.1 139.7 451.7 139.6 452.7 140.9C453.6 142.1 454.2 145.8 455.2 146.6C456.1 147.4 456.7 145.5 457.7 145.0C458.6 144.4 459.2 143.2 460.2 143.8C461.1 144.4 461.7 147.8 462.7 148.1C463.6 148.3 464.2 145.6 465.2 145.1C466.1 144.6 466.7 145.5 467.7 145.5C468.6 145.4 469.2 144.0 470.1 144.8C471.1 145.7 471.7 148.7 472.6 150.1C473.6 151.5 474.2 152.1 475.1 152.1C476.1 152.2 476.7 151.5 477.6 150.3C478.6 149.0 479.2 145.9 480.1 145.6C481.1 145.3 481.7 148.0 482.6 148.6C483.6 149.3 484.2 148.8 485.1 148.9C486.1 149.1 486.7 150.0 487.6 149.4C488.6 148.9 489.2 146.2 490.1 146.1C491.1 146.1 491.7 149.0 492.6 149.1C493.6 149.2 494.2 146.6 495.1 146.7C496.1 146.8 496.7 149.3 497.6 149.6C498.5 150.0 499.1 148.6 500.1 148.4C501.0 148.2 501.6 148.9 502.6 148.5C503.5 148.0 504.1 145.8 505.1 146.1C506.0 146.4 506.6 150.0 507.6 150.0C508.5 150.1 509.1 146.2 510.1 146.2C511.0 146.1 511.6 149.9 512.6 149.8C513.5 149.7 514.1 146.3 515.1 145.7C516.0 145.2 516.6 146.1 517.6 146.9C518.5 147.8 519.6 149.6 520.1 150.2" fill="none" stroke="#868686" stroke-width="1.6" stroke-linejoin="round" stroke-linecap="round"/>
<path d="M372.3 138.4C372.6 138.1 373.2 135.6 373.8 136.5C374.3 137.4 374.6 142.1 375.2 143.2C375.7 144.3 376.0 141.9 376.6 142.3C377.3 142.6 377.6 144.2 378.6 145.1C379.5 146.1 380.3 146.7 381.4 147.1C382.5 147.4 383.2 147.2 384.3 147.1C385.4 146.9 386.1 146.1 387.2 146.1C388.3 146.1 389.0 147.2 390.1 147.1C391.2 147.0 391.9 146.4 392.9 145.6C393.9 144.9 394.5 143.9 395.3 143.2C396.2 142.6 396.9 142.4 397.3 142.3" fill="none" stroke="#848484" stroke-width="3.6" stroke-linejoin="round" stroke-linecap="round"/>
<path d="M412.7 128.6C413.1 128.5 413.9 128.1 414.5 127.9C415.1 127.7 415.4 127.9 416.1 127.5C416.7 127.1 417.2 126.3 417.8 125.7C418.5 125.1 418.8 124.2 419.4 124.2C420.0 124.1 420.4 125.1 420.9 125.5C421.5 125.9 421.7 126.9 422.3 126.4C422.8 125.9 423.2 124.1 423.8 122.8C424.4 121.6 424.8 119.9 425.4 119.7C425.9 119.6 426.4 121.3 426.9 122.2C427.4 123.0 427.8 124.9 428.2 124.2C428.7 123.4 428.9 120.5 429.3 118.4C429.8 116.3 429.9 114.4 430.4 113.1C430.9 111.8 431.4 112.2 432.0 111.8C432.5 111.3 432.8 111.5 433.3 110.9C433.8 110.3 434.1 109.5 434.6 108.7C435.2 107.8 435.4 107.6 436.0 106.5C436.6 105.4 437.1 104.2 437.7 102.9C438.4 101.7 438.7 100.5 439.3 99.8C439.9 99.1 440.4 99.4 441.1 99.2C441.7 98.9 442.0 99.3 442.6 98.7C443.2 98.1 443.8 96.9 444.4 95.8C445.0 94.8 445.3 93.2 445.9 93.2C446.5 93.1 446.9 94.8 447.5 95.6C448.0 96.5 448.2 98.1 448.8 97.6C449.4 97.1 450.1 94.6 450.8 93.0C451.5 91.3 451.9 88.7 452.6 88.8C453.2 88.8 453.7 91.7 454.3 93.4C455.0 95.1 455.3 97.7 455.9 97.6C456.5 97.5 457.0 94.6 457.7 93.0C458.3 91.3 458.6 89.7 459.2 88.8C459.8 87.8 460.3 88.3 461.0 88.1C461.6 87.9 461.9 87.3 462.5 87.7C463.2 88.0 463.7 89.2 464.3 90.1C464.9 90.9 465.2 92.0 465.8 92.1C466.5 92.2 467.0 91.2 467.6 90.8C468.2 90.3 468.5 90.3 469.2 89.9C469.8 89.4 470.3 89.0 470.9 88.5C471.6 88.1 471.8 87.3 472.5 87.7C473.1 88.0 473.6 89.5 474.2 90.5C474.9 91.6 475.2 93.2 475.8 93.2C476.4 93.1 476.9 91.4 477.6 90.3C478.2 89.3 478.5 88.3 479.1 87.7C479.7 87.0 480.3 87.2 480.9 87.0C481.5 86.8 481.8 87.2 482.4 86.5C483.0 85.9 483.4 84.7 484.0 83.7C484.5 82.6 484.8 80.1 485.3 81.0C485.8 81.9 486.1 85.6 486.6 88.3C487.1 91.1 487.4 94.7 488.0 95.4C488.6 96.1 489.1 93.1 489.7 91.9C490.4 90.6 490.7 88.6 491.3 88.8C491.9 88.9 492.4 91.3 493.1 92.7C493.7 94.2 494.0 96.8 494.6 96.5C495.2 96.3 495.7 93.3 496.4 91.4C497.0 89.5 497.3 87.8 497.9 86.5C498.6 85.3 499.1 85.4 499.7 84.8C500.3 84.1 500.6 83.7 501.2 83.2C501.9 82.8 502.4 82.8 503.0 82.6C503.6 82.4 503.9 81.8 504.6 82.1C505.2 82.5 505.7 83.5 506.3 84.3C507.0 85.2 507.2 86.5 507.9 86.5C508.5 86.6 509.0 85.4 509.6 84.8C510.3 84.1 510.6 83.3 511.2 83.2C511.8 83.1 512.3 83.9 513.0 84.3C513.6 84.8 513.9 84.6 514.5 85.4C515.1 86.3 515.7 87.5 516.3 88.8C516.9 90.0 517.1 91.2 517.8 92.1C518.5 92.9 519.6 93.0 520.0 93.2" fill="none" stroke="#848484" stroke-width="3.6" stroke-linejoin="round" stroke-linecap="round"/>
<path d="M372.3 140.3C372.7 141.1 373.4 143.6 374.2 144.2C375.1 144.7 375.7 142.7 376.6 143.2C377.5 143.8 378.0 146.6 379.0 147.1C380.0 147.5 380.8 145.3 381.9 145.6C383.0 146.0 383.7 148.8 384.8 149.0C385.9 149.2 386.6 147.5 387.7 146.6C388.8 145.7 389.5 143.9 390.5 144.2C391.5 144.5 392.0 147.7 392.9 148.0C393.9 148.3 394.5 145.8 395.3 145.6C396.2 145.4 396.9 146.8 397.3 147.1" fill="none" stroke="#111" stroke-width="2.0" stroke-linejoin="round" stroke-linecap="butt" stroke-dasharray="2 1.9"/>
<path d="M412.8 146.1C413.2 146.3 414.3 147.9 415.2 147.2C416.2 146.4 416.8 141.9 417.7 142.2C418.7 142.5 419.3 148.3 420.2 148.8C421.2 149.4 421.8 145.2 422.7 145.2C423.7 145.1 424.3 148.6 425.2 148.6C426.2 148.6 426.8 144.9 427.7 145.2C428.7 145.5 429.3 150.3 430.2 150.2C431.2 150.0 431.8 145.6 432.7 144.4C433.7 143.2 434.3 143.3 435.2 144.0C436.2 144.7 436.8 147.8 437.7 148.0C438.7 148.2 439.3 145.1 440.2 145.2C441.1 145.3 441.7 148.0 442.7 148.5C443.6 149.0 444.2 148.5 445.2 147.8C446.1 147.0 446.7 144.0 447.7 144.4C448.6 144.8 449.2 149.8 450.2 149.9C451.1 150.0 451.7 145.4 452.7 145.0C453.6 144.7 454.2 148.5 455.2 148.0C456.1 147.5 456.7 142.5 457.7 142.6C458.6 142.6 459.2 147.7 460.2 148.1C461.1 148.5 461.7 144.7 462.7 144.7C463.6 144.8 464.2 148.8 465.2 148.4C466.1 148.0 466.7 142.5 467.7 142.7C468.6 142.9 469.2 149.1 470.1 149.3C471.1 149.5 471.7 144.2 472.6 143.8C473.6 143.4 474.2 147.2 475.1 147.2C476.1 147.3 476.7 144.2 477.6 144.2C478.6 144.2 479.2 147.2 480.1 147.2C481.1 147.3 481.7 144.3 482.6 144.6C483.6 145.0 484.2 149.1 485.1 149.1C486.1 149.1 486.7 144.7 487.6 144.8C488.6 144.8 489.2 149.7 490.1 149.5C491.1 149.4 491.7 144.6 492.6 144.1C493.6 143.7 494.2 147.4 495.1 147.3C496.1 147.3 496.7 143.9 497.6 143.9C498.5 143.9 499.1 147.6 500.1 147.3C501.0 147.0 501.6 142.1 502.6 142.3C503.5 142.5 504.1 148.2 505.1 148.3C506.0 148.4 506.6 142.8 507.6 142.8C508.5 142.9 509.1 148.1 510.1 148.5C511.0 148.9 511.6 145.7 512.6 144.9C513.5 144.2 514.1 143.9 515.1 144.6C516.0 145.3 516.6 149.1 517.6 148.8C518.5 148.6 519.6 144.4 520.1 143.4" fill="none" stroke="#111" stroke-width="2.0" stroke-linejoin="round" stroke-linecap="butt" stroke-dasharray="2 1.9"/>
<path d="M372.3 137.5C372.6 138.4 373.1 141.7 373.8 142.3C374.4 142.8 374.9 140.0 375.7 140.3C376.4 140.7 376.7 143.8 377.6 144.2C378.5 144.5 379.4 142.4 380.5 142.3C381.6 142.1 382.3 142.3 383.3 143.2C384.4 144.1 384.8 147.1 385.7 147.1C386.7 147.1 387.3 144.6 388.1 143.2C389.0 141.9 389.4 140.1 390.1 139.9C390.7 139.7 391.0 141.3 391.5 142.3C392.0 143.3 392.3 144.8 392.9 145.1C393.6 145.5 394.1 143.8 394.9 144.2C395.6 144.5 396.2 146.0 396.8 147.1C397.3 148.2 397.6 149.4 397.7 149.9" fill="none" stroke="#0a0a0a" stroke-width="1.5" stroke-linejoin="round" stroke-linecap="round"/>
<path d="M412.8 146.7C413.2 145.7 414.3 141.5 415.2 141.2C416.2 141.0 416.8 145.0 417.7 145.4C418.7 145.9 419.3 143.1 420.2 143.6C421.2 144.1 421.8 148.2 422.7 148.0C423.7 147.9 424.3 142.7 425.2 142.8C426.2 142.9 426.8 148.1 427.7 148.6C428.7 149.1 429.3 145.4 430.2 145.5C431.2 145.6 431.8 149.0 432.7 149.0C433.7 149.0 434.3 145.8 435.2 145.6C436.2 145.4 436.8 148.5 437.7 148.1C438.7 147.6 439.3 143.5 440.2 143.4C441.1 143.2 441.7 146.1 442.7 147.2C443.6 148.3 444.2 150.2 445.2 149.3C446.1 148.4 446.7 142.6 447.7 142.4C448.6 142.2 449.2 148.1 450.2 148.3C451.1 148.4 451.7 143.7 452.7 143.3C453.6 142.9 454.2 146.1 455.2 146.0C456.1 145.9 456.7 142.8 457.7 142.9C458.6 142.9 459.2 146.5 460.2 146.1C461.1 145.6 461.7 140.5 462.7 140.6C463.6 140.7 464.2 146.6 465.2 146.6C466.1 146.6 466.7 140.9 467.7 140.6C468.6 140.4 469.2 145.2 470.1 145.3C471.1 145.3 471.7 141.7 472.6 140.7C473.6 139.7 474.2 139.2 475.1 140.0C476.1 140.8 476.7 143.8 477.6 145.0C478.6 146.1 479.2 147.1 480.1 146.0C481.1 144.9 481.7 140.0 482.6 139.1C483.6 138.3 484.2 140.2 485.1 141.6C486.1 142.9 486.7 146.5 487.6 146.2C488.6 145.8 489.2 140.8 490.1 139.8C491.1 138.7 491.7 139.5 492.6 140.7C493.6 141.9 494.2 145.8 495.1 145.9C496.1 146.0 496.7 141.2 497.6 141.3C498.5 141.4 499.1 146.6 500.1 146.3C501.0 146.1 501.6 139.9 502.6 140.0C503.5 140.1 504.1 146.7 505.1 147.0C506.0 147.3 506.6 142.5 507.6 141.5C508.5 140.5 509.1 141.2 510.1 141.9C511.0 142.7 511.6 145.5 512.6 145.6C513.5 145.8 514.1 142.3 515.1 142.6C516.0 143.0 516.6 147.7 517.6 147.5C518.5 147.3 519.6 142.6 520.1 141.5" fill="none" stroke="#0a0a0a" stroke-width="1.5" stroke-linejoin="round" stroke-linecap="round"/>
<path d="M372.3 142.3C372.8 142.1 373.8 140.8 374.7 141.3C375.6 141.9 376.2 144.6 377.1 145.1C378.0 145.7 378.7 144.5 379.5 144.2C380.3 143.8 380.7 142.1 381.4 143.2C382.2 144.3 382.5 148.3 383.3 149.9C384.2 151.6 384.8 151.9 385.7 151.9C386.7 151.9 387.3 150.7 388.1 149.9C389.0 149.2 389.3 147.7 390.1 148.0C390.8 148.4 391.3 151.5 392.0 151.9C392.7 152.2 393.2 151.2 393.9 149.9C394.6 148.7 395.2 146.4 395.8 145.1C396.5 143.9 397.0 143.6 397.3 143.2" fill="none" stroke="#0a0a0a" stroke-width="4.0" stroke-linejoin="round" stroke-linecap="round"/>
<path d="M412.8 147.9C413.2 148.7 414.3 151.6 415.2 151.9C416.2 152.1 416.8 149.0 417.7 149.3C418.7 149.5 419.3 152.9 420.2 153.0C421.2 153.1 421.8 149.5 422.7 149.8C423.7 150.0 424.3 154.1 425.2 154.1C426.2 154.1 426.8 150.4 427.7 149.8C428.7 149.2 429.3 151.4 430.2 151.0C431.2 150.5 431.8 147.6 432.7 147.3C433.7 147.0 434.3 149.9 435.2 149.5C436.2 149.1 436.8 146.1 437.7 145.2C438.7 144.4 439.3 145.9 440.2 145.1C441.1 144.4 441.7 142.0 442.7 141.2C443.6 140.3 444.2 141.4 445.2 140.8C446.1 140.1 446.7 137.9 447.7 137.7C448.6 137.5 449.2 139.7 450.2 139.9C451.1 140.0 451.7 138.4 452.7 138.5C453.6 138.7 454.2 140.9 455.2 140.8C456.1 140.6 456.7 137.9 457.7 137.8C458.6 137.6 459.2 140.3 460.2 139.8C461.1 139.4 461.7 136.0 462.7 135.4C463.6 134.9 464.2 137.3 465.2 136.8C466.1 136.4 466.7 133.9 467.7 133.1C468.6 132.4 469.2 132.8 470.1 132.8C471.1 132.9 471.7 132.4 472.6 133.3C473.6 134.2 474.2 137.1 475.1 137.7C476.1 138.2 476.7 136.1 477.6 136.1C478.6 136.1 479.2 137.7 480.1 137.6C481.1 137.5 481.7 135.8 482.6 135.5C483.6 135.3 484.2 136.3 485.1 136.1C486.1 135.9 486.7 134.5 487.6 134.7C488.6 134.9 489.2 137.2 490.1 137.1C491.1 137.1 491.7 134.4 492.6 134.6C493.6 134.8 494.2 138.0 495.1 138.2C496.1 138.3 496.7 135.4 497.6 135.5C498.5 135.6 499.1 138.2 500.1 138.7C501.0 139.2 501.6 137.9 502.6 138.1C503.5 138.2 504.1 140.1 505.1 139.3C506.0 138.6 506.6 135.0 507.6 134.1C508.5 133.1 509.1 134.8 510.1 134.2C511.0 133.7 511.6 130.3 512.6 131.2C513.5 132.0 514.1 137.5 515.1 138.7C516.0 139.9 516.6 138.1 517.6 137.6C518.5 137.2 519.6 136.7 520.1 136.4" fill="none" stroke="#0a0a0a" stroke-width="4.0" stroke-linejoin="round" stroke-linecap="round"/>
</g>
<path d="M371.5 34.4 V190.0 H520.0" fill="none" stroke="#111" stroke-width="2"/>
<path d="M371.5 190.0 h-4" stroke="#111" stroke-width="1.6"/>
<text x="365.0" y="194.8" text-anchor="end">0</text>
<path d="M371.5 151.2 h-4" stroke="#111" stroke-width="1.6"/>
<text x="365.0" y="156.0" text-anchor="end">1</text>
<path d="M371.5 112.4 h-4" stroke="#111" stroke-width="1.6"/>
<text x="365.0" y="117.2" text-anchor="end">2</text>
<path d="M371.5 73.7 h-4" stroke="#111" stroke-width="1.6"/>
<text x="365.0" y="78.5" text-anchor="end">3</text>
<path d="M371.5 34.9 h-4" stroke="#111" stroke-width="1.6"/>
<text x="365.0" y="39.7" text-anchor="end">4</text>
<path d="M376.0 190.0 v3.1" stroke="#111" stroke-width="1.6"/>
<path d="M390.7 190.0 v3.1" stroke="#111" stroke-width="1.6"/>
<path d="M405.4 190.0 v3.1" stroke="#111" stroke-width="1.6"/>
<path d="M420.1 190.0 v3.1" stroke="#111" stroke-width="1.6"/>
<path d="M434.8 190.0 v3.1" stroke="#111" stroke-width="1.6"/>
<path d="M449.5 190.0 v3.1" stroke="#111" stroke-width="1.6"/>
<path d="M464.2 190.0 v3.1" stroke="#111" stroke-width="1.6"/>
<path d="M478.9 190.0 v3.1" stroke="#111" stroke-width="1.6"/>
<path d="M493.6 190.0 v3.1" stroke="#111" stroke-width="1.6"/>
<path d="M508.3 190.0 v3.1" stroke="#111" stroke-width="1.6"/>
<text x="405.4" y="206.9" text-anchor="middle">0</text>
<text x="434.8" y="206.9" text-anchor="middle">1</text>
<text x="464.2" y="206.9" text-anchor="middle">2</text>
<text x="493.6" y="206.9" text-anchor="middle">3</text>
<text x="400.0" y="48.0">BAPTA (12 μM)</text></g>
<g><clipPath id="cp4"><rect x="0" y="0" width="179.2" height="417"/></clipPath>
<g clip-path="url(#cp4)">
<path d="M34.7 330.3C35.3 331.1 36.5 332.5 37.6 334.2C38.7 335.8 39.4 337.7 40.5 339.0C41.6 340.3 42.3 340.9 43.3 340.9C44.4 340.9 45.1 338.8 46.2 339.0C47.3 339.2 48.0 341.5 49.1 341.9C50.2 342.2 50.9 341.4 52.0 340.9C53.1 340.4 53.8 339.3 54.9 339.0C56.0 338.6 57.2 339.0 57.7 339.0" fill="none" stroke="#868686" stroke-width="1.6" stroke-linejoin="round" stroke-linecap="round"/>
<path d="M78.7 339.6C79.1 339.9 80.2 340.7 81.1 341.2C82.1 341.8 82.7 342.2 83.7 342.5C84.7 342.8 85.5 342.8 86.6 342.9C87.7 343.1 88.4 343.1 89.5 343.2C90.6 343.4 91.2 343.5 92.3 343.7C93.4 343.8 94.3 343.8 95.2 344.0C96.2 344.1 96.7 344.4 97.4 344.7C98.1 344.9 98.3 344.9 98.8 345.4C99.3 345.9 99.5 346.7 99.8 347.3C100.2 347.8 100.3 348.8 100.7 348.3C101.0 347.7 101.3 345.6 101.7 344.4C102.1 343.2 102.2 342.4 102.7 341.8C103.2 341.2 103.8 341.5 104.6 341.4C105.3 341.2 105.9 341.0 106.7 341.1C107.5 341.2 108.1 341.7 108.9 341.9C109.7 342.2 110.2 342.3 111.0 342.5C111.9 342.7 112.4 342.8 113.2 342.9C114.0 343.1 114.5 343.3 115.4 343.2C116.2 343.2 116.7 342.9 117.5 342.8C118.3 342.7 118.9 342.4 119.7 342.5C120.5 342.6 121.8 343.2 121.8 343.2C121.9 343.2 120.1 342.3 120.0 342.5C119.9 342.7 120.9 343.7 121.4 344.2C122.0 344.8 122.3 345.3 122.9 345.4C123.4 345.5 123.8 344.8 124.3 344.5C124.9 344.3 125.2 343.7 125.8 344.0C126.3 344.2 126.6 345.1 127.2 345.7C127.7 346.2 128.1 346.4 128.6 346.8C129.1 347.3 129.4 347.7 129.8 348.1C130.2 348.5 130.4 349.2 130.8 349.0C131.2 348.7 131.5 347.5 131.9 346.8C132.4 346.2 132.5 345.8 132.9 345.4C133.4 345.0 133.8 344.8 134.4 344.5C134.9 344.3 135.3 343.8 135.8 344.0C136.4 344.1 136.7 344.8 137.3 345.3C137.8 345.7 138.2 346.3 138.7 346.1C139.3 346.0 139.6 345.1 140.1 344.5C140.7 344.0 141.0 343.2 141.6 343.2C142.1 343.2 142.5 344.1 143.0 344.5C143.6 344.9 143.9 345.6 144.5 345.4C145.0 345.2 145.4 344.1 145.9 343.4C146.4 342.7 146.8 341.9 147.3 341.8C147.9 341.7 148.2 342.7 148.8 343.1C149.3 343.5 149.7 344.3 150.2 344.0C150.7 343.7 151.0 342.3 151.4 341.5C151.8 340.7 152.0 339.4 152.4 339.6C152.8 339.9 153.1 341.9 153.5 342.9C153.9 344.0 154.1 345.2 154.5 345.4C155.0 345.6 155.4 344.5 156.0 344.1C156.5 343.7 156.9 343.1 157.4 343.2C158.0 343.4 158.3 344.3 158.8 344.8C159.4 345.4 159.7 346.1 160.3 346.1C160.8 346.1 161.2 345.2 161.7 344.8C162.3 344.4 162.6 344.0 163.2 344.0C163.7 344.0 164.1 344.5 164.6 344.8C165.2 345.1 165.5 345.5 166.0 345.4C166.6 345.3 166.9 344.5 167.5 344.1C168.0 343.7 168.4 343.2 168.9 343.2C169.5 343.3 169.8 344.1 170.4 344.5C170.9 344.9 171.3 345.4 171.8 345.4C172.3 345.4 172.7 344.8 173.2 344.5C173.8 344.3 174.1 344.2 174.7 344.0C175.2 343.7 175.6 343.4 176.1 343.1C176.7 342.8 176.8 343.0 177.6 342.5C178.3 342.0 179.5 340.8 180.0 340.4" fill="none" stroke="#868686" stroke-width="1.6" stroke-linejoin="round" stroke-linecap="round"/>
<path d="M34.7 329.4C35.3 329.6 36.5 329.1 37.6 330.3C38.7 331.6 39.4 334.3 40.5 336.1C41.6 337.9 42.3 339.2 43.3 339.9C44.4 340.7 45.1 339.8 46.2 339.9C47.3 340.1 48.0 340.9 49.1 340.9C50.2 340.9 50.9 340.5 52.0 339.9C53.1 339.4 53.9 338.0 54.9 338.0C55.8 338.0 56.4 339.6 56.8 339.9" fill="none" stroke="#848484" stroke-width="3.6" stroke-linejoin="round" stroke-linecap="round"/>
<path d="M72.6 305.3C72.7 306.3 72.9 308.4 73.2 310.7C73.5 312.9 73.7 316.5 74.2 317.2C74.6 317.8 74.9 315.3 75.6 314.1C76.2 312.9 76.8 311.7 77.6 310.7C78.4 309.6 78.9 309.2 79.7 308.3C80.5 307.5 81.0 307.2 81.8 306.4C82.6 305.7 83.0 305.4 83.8 304.5C84.6 303.6 85.2 303.0 86.0 301.8C86.8 300.7 87.1 299.8 87.9 298.4C88.7 297.0 89.3 296.1 90.2 294.5C91.1 293.0 91.8 291.0 92.7 290.3C93.6 289.6 94.3 291.6 95.0 291.1C95.7 290.6 95.9 289.0 96.4 287.6C97.0 286.2 97.2 285.4 97.8 283.8C98.4 282.2 98.8 280.6 99.4 279.2C100.0 277.7 100.4 275.5 101.1 276.1C101.8 276.7 102.3 280.0 102.9 282.2C103.6 284.4 103.9 287.8 104.5 287.6C105.1 287.5 105.5 283.8 106.1 281.5C106.8 279.1 107.3 276.1 107.9 275.3C108.5 274.6 108.9 276.7 109.4 277.6C109.9 278.6 110.1 281.5 110.7 280.3C111.3 279.1 111.8 274.5 112.3 271.5C112.9 268.4 113.2 264.2 113.7 264.2C114.2 264.2 114.5 268.9 115.0 271.5C115.5 274.0 115.7 276.8 116.3 277.6C116.8 278.5 117.3 276.9 117.9 276.1C118.5 275.3 118.9 274.4 119.6 273.4C120.3 272.4 120.8 271.7 121.4 270.7C122.1 269.8 122.1 269.4 123.2 268.4C124.3 267.4 125.9 265.8 127.0 265.3C128.1 264.9 128.2 266.1 129.1 266.1C129.9 266.1 130.6 265.8 131.4 265.3C132.2 264.9 132.5 264.2 133.2 263.8C133.9 263.4 134.3 263.4 135.0 263.4C135.6 263.4 136.1 264.0 136.7 263.8C137.4 263.6 137.7 262.3 138.5 262.3C139.3 262.3 140.0 263.4 140.8 263.8C141.7 264.2 142.1 264.7 142.9 264.6C143.7 264.4 144.4 263.5 145.2 263.0C146.1 262.6 146.4 262.4 147.6 262.3C148.8 262.1 150.7 263.3 151.7 262.3C152.7 261.2 152.5 259.0 152.9 256.9C153.3 254.8 153.6 251.4 154.0 251.1C154.5 250.9 154.7 253.6 155.2 255.7C155.8 257.9 156.2 259.7 156.7 262.3C157.3 264.8 157.7 267.3 158.2 269.2C158.7 271.1 158.8 272.3 159.2 272.3C159.6 272.3 159.8 271.1 160.2 269.2C160.7 267.3 161.1 264.5 161.7 262.3C162.3 260.1 162.7 257.1 163.3 257.7C163.9 258.2 164.1 262.3 164.7 265.3C165.2 268.3 165.6 272.8 166.1 273.4C166.6 274.0 166.7 271.4 167.3 268.4C167.9 265.4 168.4 260.9 169.1 257.7C169.7 254.4 170.1 251.5 170.7 251.1C171.3 250.8 171.7 253.8 172.3 255.7C172.9 257.7 173.2 259.7 173.8 261.5C174.4 263.3 174.9 265.7 175.4 265.3C176.0 265.0 176.2 262.2 176.7 259.6C177.2 257.0 177.8 253.3 178.2 251.5C178.7 249.7 178.9 250.3 179.1 250.0" fill="none" stroke="#848484" stroke-width="3.6" stroke-linejoin="round" stroke-linecap="round"/>
<path d="M34.2 330.3C34.3 331.6 34.3 334.7 34.7 337.1C35.2 339.4 35.9 342.1 36.6 342.8C37.4 343.5 37.7 340.7 38.6 340.9C39.4 341.1 40.0 343.0 40.9 343.8C41.9 344.5 42.3 344.9 43.3 344.7C44.4 344.6 45.2 342.6 46.2 342.8C47.2 343.0 47.7 345.5 48.6 345.7C49.5 345.9 50.1 344.5 51.0 343.8C51.9 343.0 52.5 341.9 53.4 341.9C54.3 341.9 55.4 343.4 55.8 343.8" fill="none" stroke="#111" stroke-width="2.0" stroke-linejoin="round" stroke-linecap="butt" stroke-dasharray="2 1.9"/>
<path d="M73.6 328.1C73.9 327.8 74.5 326.9 75.1 326.3C75.6 325.6 76.0 325.3 76.5 324.5C77.1 323.8 77.4 323.2 77.9 322.4C78.5 321.6 78.8 321.2 79.4 320.2C80.0 319.3 80.4 318.4 81.1 317.3C81.8 316.2 82.3 315.6 83.0 314.5C83.7 313.4 84.0 312.7 84.7 311.6C85.4 310.5 85.9 309.5 86.6 308.7C87.3 307.9 87.6 307.8 88.3 307.3C89.0 306.7 89.4 306.4 90.2 305.8C90.9 305.3 91.5 304.9 92.3 304.4C93.2 303.8 93.7 303.5 94.5 302.9C95.3 302.4 95.8 302.1 96.7 301.5C97.5 301.0 98.1 299.9 98.8 300.1C99.6 300.2 99.9 301.6 100.5 302.4C101.2 303.2 101.8 304.1 102.4 304.4C103.0 304.7 103.3 304.1 103.8 304.0C104.4 303.8 104.7 303.4 105.3 303.7C105.8 304.0 106.2 304.9 106.7 305.5C107.3 306.2 107.5 307.3 108.2 307.3C108.8 307.2 109.5 305.9 110.3 305.1C111.1 304.3 111.7 303.9 112.5 303.2C113.3 302.6 113.8 301.7 114.6 301.8C115.5 301.9 116.0 302.9 116.8 303.7C117.6 304.4 118.1 305.9 119.0 305.8C119.8 305.7 120.3 303.5 121.1 303.2C121.9 303.0 123.5 304.2 123.3 304.4C123.1 304.6 120.3 304.6 120.0 304.4C119.7 304.2 120.9 303.6 121.4 303.2C122.0 302.8 122.3 302.3 122.9 302.2C123.4 302.2 123.8 302.8 124.3 303.1C124.9 303.4 125.2 303.9 125.8 303.7C126.3 303.4 126.6 302.5 127.2 301.8C127.7 301.1 128.1 300.8 128.6 300.1C129.2 299.4 129.5 298.7 130.1 298.1C130.6 297.4 131.0 296.1 131.5 296.5C132.0 296.9 132.3 298.8 132.7 300.1C133.1 301.3 133.3 302.2 133.7 302.9C134.1 303.7 134.4 303.5 134.8 303.8C135.2 304.1 135.4 304.1 135.8 304.4C136.3 304.7 136.7 305.1 137.3 305.5C137.8 305.9 138.2 306.7 138.7 306.5C139.3 306.4 139.6 305.2 140.1 304.5C140.7 303.8 141.0 303.1 141.6 302.9C142.1 302.8 142.5 303.5 143.0 303.8C143.6 304.1 143.9 304.0 144.5 304.4C145.0 304.8 145.4 305.4 145.9 306.0C146.4 306.5 146.8 306.8 147.3 307.3C147.9 307.7 148.2 308.0 148.8 308.4C149.3 308.8 149.7 309.8 150.2 309.4C150.7 309.1 151.0 307.6 151.4 306.7C151.8 305.7 151.9 304.4 152.4 304.4C152.8 304.3 153.3 305.7 153.8 306.4C154.4 307.1 154.8 307.9 155.3 308.0C155.7 308.1 156.0 307.2 156.4 306.8C156.8 306.4 157.0 306.2 157.4 305.8C157.8 305.4 158.2 305.1 158.6 304.7C159.0 304.3 159.2 303.2 159.6 303.7C160.0 304.2 160.3 306.0 160.7 307.3C161.1 308.5 161.3 309.8 161.7 310.1C162.2 310.5 162.6 309.4 163.2 309.0C163.7 308.6 164.1 308.4 164.6 308.0C165.2 307.6 165.5 307.2 166.0 306.8C166.6 306.4 166.9 306.2 167.5 305.8C168.0 305.4 168.4 305.1 168.9 304.7C169.5 304.3 169.9 303.3 170.4 303.7C170.9 304.0 171.1 305.4 171.5 306.4C171.9 307.4 172.2 307.7 172.5 308.7C172.8 309.7 173.0 310.6 173.2 311.6C173.5 312.5 173.7 313.7 174.0 313.7C174.2 313.8 174.4 312.6 174.7 311.9C174.9 311.2 175.3 310.5 175.4 310.1" fill="none" stroke="#111" stroke-width="2.0" stroke-linejoin="round" stroke-linecap="butt" stroke-dasharray="2 1.9"/>
<path d="M34.7 327.5C35.2 327.7 36.2 327.0 37.1 328.4C38.0 329.9 38.6 332.8 39.5 335.1C40.4 337.5 41.0 340.7 41.9 340.9C42.8 341.1 43.4 336.6 44.3 336.1C45.2 335.6 45.8 336.7 46.7 338.0C47.6 339.3 48.2 342.6 49.1 342.8C50.0 343.0 50.6 340.6 51.5 339.0C52.4 337.3 53.0 335.3 53.9 334.2C54.8 333.1 55.5 332.9 56.3 333.2C57.1 333.6 57.9 335.6 58.2 336.1" fill="none" stroke="#0a0a0a" stroke-width="1.5" stroke-linejoin="round" stroke-linecap="round"/>
<path d="M72.9 333.2C73.1 332.8 73.5 331.7 73.9 331.0C74.3 330.3 74.6 330.0 75.1 329.6C75.6 329.2 76.0 328.9 76.5 328.8C77.1 328.8 77.5 328.7 77.9 329.1C78.4 329.5 78.7 330.2 79.1 331.0C79.5 331.8 79.8 332.5 80.1 333.2C80.4 333.8 80.6 334.2 80.8 334.6C81.1 335.0 81.2 335.6 81.5 335.3C81.9 335.1 82.1 333.8 82.6 333.2C83.0 332.5 83.2 332.2 83.7 331.7C84.2 331.3 84.6 331.1 85.1 330.9C85.7 330.6 86.0 330.6 86.6 330.3C87.1 330.0 87.5 329.5 88.0 329.1C88.6 328.7 88.9 328.5 89.5 328.1C90.0 327.7 90.4 327.4 90.9 327.0C91.4 326.6 91.7 326.4 92.3 326.0C93.0 325.6 93.5 325.2 94.2 324.8C94.9 324.4 95.5 323.5 95.9 323.8C96.4 324.2 96.4 325.7 96.7 326.7C96.9 327.6 97.0 328.9 97.4 328.8C97.7 328.8 98.1 327.1 98.5 326.3C98.9 325.4 99.1 324.6 99.5 324.5C100.0 324.4 100.4 325.3 101.0 325.7C101.5 326.1 101.9 326.3 102.4 326.7C103.0 327.1 103.3 327.4 103.8 327.8C104.4 328.3 104.7 328.3 105.3 328.8C105.8 329.4 106.2 330.0 106.7 330.6C107.3 331.1 107.7 332.3 108.2 331.7C108.7 331.2 108.9 328.9 109.3 327.7C109.7 326.5 109.9 325.3 110.3 325.3C110.7 325.3 111.1 326.9 111.5 327.7C111.9 328.5 112.1 329.6 112.5 329.6C112.9 329.5 113.2 328.1 113.6 327.4C114.0 326.7 114.2 325.8 114.6 326.0C115.1 326.2 115.4 327.6 115.8 328.4C116.2 329.2 116.4 330.3 116.8 330.3C117.2 330.3 117.5 329.1 117.9 328.6C118.4 328.0 118.5 327.2 119.0 327.4C119.4 327.7 119.8 329.0 120.4 329.9C120.9 330.7 121.9 331.2 121.8 331.7C121.8 332.2 119.8 332.6 120.0 332.4C120.2 332.3 121.8 331.7 122.9 331.0C124.0 330.3 124.9 329.6 125.8 328.8C126.6 328.1 126.6 327.7 127.2 327.1C127.7 326.6 128.1 325.6 128.6 326.0C129.1 326.3 129.4 327.9 129.8 328.8C130.2 329.8 130.4 330.8 130.8 331.0C131.2 331.2 131.5 330.3 131.9 330.0C132.4 329.7 132.5 329.3 132.9 329.6C133.4 329.8 133.7 330.7 134.1 331.3C134.5 331.8 134.5 332.4 135.1 332.4C135.7 332.5 136.4 331.6 137.3 331.7C138.1 331.9 138.8 332.6 139.4 333.2C140.0 333.7 140.1 334.2 140.4 334.6C140.8 335.0 141.0 336.1 141.3 335.3C141.6 334.5 141.8 331.9 142.2 330.3C142.5 328.6 142.7 327.2 143.0 326.7C143.3 326.2 143.6 327.3 143.9 327.7C144.2 328.1 144.4 328.2 144.7 328.8C145.1 329.5 145.4 330.5 145.8 331.3C146.1 332.1 146.2 333.1 146.6 333.2C147.0 333.2 147.4 332.1 147.8 331.7C148.2 331.3 148.4 330.7 148.8 331.0C149.2 331.3 149.5 332.6 149.9 333.5C150.3 334.3 150.5 335.2 150.9 335.3C151.3 335.4 151.7 334.3 152.1 333.9C152.5 333.5 152.7 333.0 153.1 333.2C153.5 333.4 153.8 334.3 154.2 334.9C154.7 335.4 154.8 336.2 155.3 336.0C155.7 335.9 156.0 334.9 156.4 334.3C156.8 333.8 157.0 333.2 157.4 333.2C157.8 333.1 158.2 333.8 158.6 334.0C159.0 334.3 159.2 334.0 159.6 334.6C160.0 335.2 160.3 336.2 160.7 337.1C161.1 337.9 161.3 338.7 161.7 338.9C162.1 339.1 162.5 338.3 162.9 338.1C163.3 337.8 163.5 337.9 163.9 337.5C164.3 337.0 164.6 336.3 165.0 335.8C165.4 335.2 165.6 334.6 166.0 334.6C166.5 334.6 166.8 335.5 167.2 335.9C167.6 336.3 167.6 336.3 168.2 336.8C168.8 337.2 169.5 338.1 170.4 338.2C171.2 338.3 171.7 337.9 172.5 337.5C173.3 337.1 173.7 336.5 174.7 336.0C175.6 335.6 176.5 335.3 177.6 335.3C178.6 335.3 179.5 335.9 180.0 336.0" fill="none" stroke="#0a0a0a" stroke-width="1.5" stroke-linejoin="round" stroke-linecap="round"/>
<path d="M34.7 328.4C35.1 327.9 35.9 325.0 36.6 325.6C37.4 326.1 37.8 328.9 38.6 331.3C39.3 333.7 39.7 336.0 40.5 338.0C41.2 340.0 41.7 342.0 42.4 341.9C43.1 341.7 43.7 338.5 44.3 337.1C44.9 335.6 45.2 333.8 45.7 334.2C46.3 334.5 46.5 337.2 47.2 339.0C47.8 340.8 48.4 343.6 49.1 343.8C49.8 344.0 50.3 341.6 51.0 339.9C51.8 338.3 52.1 336.8 52.9 335.1C53.8 333.5 54.5 331.5 55.3 331.3C56.2 331.1 56.7 333.1 57.3 334.2C57.8 335.3 58.0 336.5 58.2 337.1" fill="none" stroke="#0a0a0a" stroke-width="4.0" stroke-linejoin="round" stroke-linecap="round"/>
<path d="M72.2 345.4C72.4 344.8 72.8 343.2 73.2 342.1C73.6 341.0 73.9 340.3 74.4 339.6C74.8 339.0 75.2 338.9 75.8 338.6C76.3 338.4 76.6 338.5 77.2 338.2C77.9 337.9 78.4 337.6 79.1 337.2C79.8 336.8 80.2 336.9 80.8 336.0C81.5 335.1 81.9 333.8 82.6 332.4C83.2 331.1 83.9 329.9 84.4 328.8C85.0 327.8 85.2 327.5 85.6 327.1C86.0 326.7 86.3 325.8 86.6 326.7C86.9 327.6 87.0 329.9 87.3 331.7C87.6 333.5 87.7 336.3 88.0 336.0C88.3 335.8 88.6 332.5 89.0 330.3C89.4 328.1 89.7 326.0 90.2 324.5C90.6 323.0 90.9 323.1 91.3 322.4C91.7 321.7 91.9 321.3 92.3 320.9C92.7 320.6 93.1 320.8 93.5 320.5C93.9 320.2 94.1 320.6 94.5 319.5C94.9 318.3 95.1 316.2 95.5 314.5C95.9 312.7 96.2 311.5 96.7 310.1C97.1 308.8 97.4 308.1 97.8 307.6C98.2 307.0 98.5 306.5 98.8 307.3C99.1 308.0 99.3 309.8 99.5 311.6C99.8 313.4 100.0 315.1 100.3 316.6C100.5 318.1 100.7 318.7 101.0 319.5C101.2 320.3 101.4 321.3 101.7 320.9C102.0 320.5 102.3 318.7 102.7 317.3C103.1 316.0 103.4 314.7 103.8 313.7C104.3 312.8 104.6 312.7 105.0 312.3C105.4 311.9 105.7 312.2 106.0 311.6C106.4 311.0 106.5 309.8 106.9 309.0C107.2 308.2 107.4 307.0 107.7 307.3C108.1 307.5 108.4 309.2 108.7 310.4C109.1 311.7 109.3 312.6 109.6 313.7C109.9 314.9 110.1 315.8 110.3 316.6C110.6 317.4 110.7 319.0 111.0 318.1C111.4 317.1 111.6 313.9 112.1 311.6C112.5 309.3 112.8 307.2 113.2 305.8C113.6 304.4 113.9 304.5 114.4 304.1C114.8 303.7 115.0 303.3 115.4 303.7C115.7 304.1 115.9 305.2 116.2 306.1C116.6 307.1 116.7 307.7 117.1 308.7C117.4 309.7 117.7 310.5 118.1 311.3C118.4 312.1 118.6 313.5 119.0 313.0C119.3 312.6 119.7 310.4 120.1 309.0C120.5 307.6 120.7 305.8 121.1 305.8C121.5 305.8 121.9 307.9 122.3 309.0C122.7 310.1 123.7 311.1 123.3 311.6C122.8 312.1 120.4 311.0 120.0 311.6C119.6 312.2 120.7 313.8 121.2 314.7C121.6 315.7 121.7 317.1 122.2 316.6C122.6 316.2 122.9 313.8 123.3 312.3C123.7 310.8 123.9 309.7 124.3 308.7C124.7 307.7 125.1 307.4 125.5 307.0C125.9 306.6 126.1 306.0 126.5 306.5C126.9 307.1 127.2 308.6 127.6 309.9C128.0 311.1 128.2 311.9 128.6 313.0C129.0 314.2 129.4 315.1 129.8 315.9C130.2 316.7 130.4 317.7 130.8 317.3C131.2 317.0 131.5 315.3 131.9 314.2C132.4 313.1 132.5 312.4 132.9 311.6C133.4 310.8 133.7 310.3 134.1 309.9C134.5 309.4 134.7 309.0 135.1 309.4C135.5 309.8 135.8 311.1 136.3 311.9C136.7 312.7 136.9 313.9 137.3 313.7C137.7 313.5 138.0 311.8 138.4 310.9C138.8 309.9 139.0 309.3 139.4 308.7C139.8 308.1 140.2 307.8 140.6 307.6C141.0 307.3 141.2 306.7 141.6 307.3C142.0 307.8 142.3 309.3 142.7 310.4C143.1 311.5 143.3 312.7 143.7 313.0C144.2 313.3 144.5 312.1 144.9 311.9C145.3 311.6 145.5 311.3 145.9 311.6C146.3 311.9 146.6 312.8 147.1 313.5C147.5 314.1 147.6 314.4 148.1 315.2C148.5 315.9 148.8 316.7 149.2 317.3C149.6 318.0 149.8 318.2 150.2 318.8C150.6 319.3 151.0 319.8 151.4 320.2C151.8 320.6 152.0 320.9 152.4 320.9C152.8 321.0 153.1 320.8 153.5 320.5C153.9 320.2 154.1 319.9 154.5 319.5C154.9 319.1 155.3 318.8 155.7 318.3C156.1 317.9 156.3 317.7 156.7 317.3C157.1 317.0 157.4 316.6 157.8 316.3C158.3 316.1 158.4 315.2 158.8 315.9C159.3 316.6 159.6 318.7 160.0 320.2C160.4 321.7 160.7 322.7 161.0 323.8C161.3 325.0 161.5 325.6 161.7 326.3C162.0 326.9 162.1 327.9 162.4 327.4C162.8 326.9 163.2 325.0 163.6 323.8C164.0 322.6 164.2 321.4 164.6 320.9C165.0 320.5 165.3 321.1 165.8 321.4C166.2 321.6 166.4 321.7 166.8 322.4C167.2 323.0 167.5 324.0 167.9 324.8C168.3 325.6 168.5 326.1 168.9 326.7C169.3 327.2 169.7 327.4 170.1 327.7C170.5 328.0 170.7 328.2 171.1 328.1C171.5 328.1 171.8 327.8 172.2 327.4C172.6 327.0 172.8 326.6 173.2 326.0C173.6 325.3 174.0 324.8 174.4 324.1C174.8 323.4 175.0 322.9 175.4 322.4C175.8 321.9 176.1 321.6 176.5 321.4C177.0 321.1 176.9 321.2 177.6 320.9C178.2 320.7 179.5 320.4 180.0 320.2" fill="none" stroke="#0a0a0a" stroke-width="4.0" stroke-linejoin="round" stroke-linecap="round"/>
</g>
<path d="M31.2 222.7 V378.0 H178.3" fill="none" stroke="#111" stroke-width="2"/>
<path d="M31.2 378.0 h-4" stroke="#111" stroke-width="1.6"/>
<text x="24.7" y="382.8" text-anchor="end">0</text>
<path d="M31.2 339.3 h-4" stroke="#111" stroke-width="1.6"/>
<text x="24.7" y="344.1" text-anchor="end">1</text>
<path d="M31.2 300.6 h-4" stroke="#111" stroke-width="1.6"/>
<text x="24.7" y="305.4" text-anchor="end">2</text>
<path d="M31.2 261.9 h-4" stroke="#111" stroke-width="1.6"/>
<text x="24.7" y="266.7" text-anchor="end">3</text>
<path d="M31.2 223.2 h-4" stroke="#111" stroke-width="1.6"/>
<text x="24.7" y="228.0" text-anchor="end">4</text>
<path d="M36.2 378.0 v3.1" stroke="#111" stroke-width="1.6"/>
<path d="M50.9 378.0 v3.1" stroke="#111" stroke-width="1.6"/>
<path d="M65.6 378.0 v3.1" stroke="#111" stroke-width="1.6"/>
<path d="M80.3 378.0 v3.1" stroke="#111" stroke-width="1.6"/>
<path d="M95.0 378.0 v3.1" stroke="#111" stroke-width="1.6"/>
<path d="M109.7 378.0 v3.1" stroke="#111" stroke-width="1.6"/>
<path d="M124.4 378.0 v3.1" stroke="#111" stroke-width="1.6"/>
<path d="M139.1 378.0 v3.1" stroke="#111" stroke-width="1.6"/>
<path d="M153.8 378.0 v3.1" stroke="#111" stroke-width="1.6"/>
<path d="M168.5 378.0 v3.1" stroke="#111" stroke-width="1.6"/>
<text x="65.6" y="394.9" text-anchor="middle">0</text>
<text x="95.0" y="394.9" text-anchor="middle">1</text>
<text x="124.4" y="394.9" text-anchor="middle">2</text>
<text x="153.8" y="394.9" text-anchor="middle">3</text>
<text x="41.0" y="236.0">Wortmannin (100 nM)</text></g>
<g><clipPath id="cp5"><rect x="0" y="0" width="348.4" height="417"/></clipPath>
<g clip-path="url(#cp5)">
<path d="M201.3 322.5C201.6 323.4 202.1 324.5 202.8 327.3C203.4 330.0 203.9 334.7 204.7 336.9C205.4 339.0 205.9 337.9 206.6 338.8C207.3 339.7 207.8 342.6 208.5 341.7C209.2 340.7 209.7 335.8 210.4 334.0C211.2 332.2 211.5 331.7 212.3 332.1C213.2 332.4 213.8 335.4 214.7 335.9C215.7 336.4 216.2 334.9 217.1 334.9C218.1 334.9 218.8 334.6 219.5 335.9C220.3 337.2 220.4 341.3 221.0 341.7C221.5 342.0 222.1 338.5 222.4 337.8" fill="none" stroke="#848484" stroke-width="3.6" stroke-linejoin="round" stroke-linecap="round"/>
<path d="M245.9 298.0C246.0 298.6 246.4 299.9 246.7 300.9C247.0 301.8 247.2 303.5 247.6 303.1C247.9 302.6 248.3 300.3 248.7 298.5C249.2 296.8 249.5 295.5 250.1 293.8C250.7 292.2 251.1 291.4 251.8 290.0C252.4 288.5 252.8 287.5 253.4 286.3C254.1 285.0 254.5 284.4 255.1 283.2C255.8 282.1 256.2 281.2 256.8 280.4C257.4 279.5 257.8 279.3 258.5 278.7C259.1 278.1 259.7 277.0 260.2 277.0C260.6 277.1 260.7 278.4 261.0 279.0C261.3 279.7 261.4 281.9 261.8 280.4C262.3 278.9 262.7 274.5 263.2 271.1C263.7 267.8 263.9 263.1 264.4 262.7C264.8 262.4 265.1 267.2 265.5 269.5C266.0 271.7 266.2 274.7 266.6 274.5C266.9 274.3 267.2 270.7 267.6 268.6C267.9 266.5 268.1 264.8 268.6 263.6C269.0 262.4 269.4 262.7 269.9 262.4C270.4 262.1 270.7 261.6 271.1 261.9C271.5 262.2 271.6 263.3 271.9 264.1C272.3 264.9 272.4 266.3 272.8 266.1C273.2 265.8 273.6 263.8 274.1 262.7C274.6 261.6 274.9 260.5 275.3 260.2C275.7 260.0 275.9 260.9 276.3 261.4C276.7 261.9 276.9 261.4 277.3 262.7C277.8 264.0 278.1 266.4 278.7 268.3C279.2 270.2 279.6 272.8 280.0 272.8C280.4 272.8 280.6 269.9 281.0 268.1C281.4 266.4 281.6 265.3 282.0 263.6C282.5 261.8 282.9 260.6 283.4 259.0C283.8 257.4 284.1 255.4 284.5 255.2C285.0 255.0 285.4 257.1 285.9 258.0C286.4 259.0 286.6 259.9 287.1 260.2C287.5 260.5 287.9 259.9 288.4 259.7C288.9 259.5 289.3 259.4 289.6 259.4C289.9 259.3 289.7 259.0 290.0 259.4C290.3 259.8 290.9 260.7 291.3 261.4C291.8 262.0 292.0 262.6 292.5 262.7C293.1 262.9 293.6 262.4 294.2 262.1C294.8 261.7 295.3 262.0 295.9 261.1C296.5 260.1 296.7 258.3 297.2 256.8C297.7 255.4 297.9 254.2 298.4 253.5C298.9 252.8 299.3 253.3 299.7 253.2C300.2 253.0 300.4 253.7 300.9 252.6C301.4 251.6 301.9 249.4 302.4 247.6C303.0 245.8 303.3 243.6 303.8 243.4C304.3 243.2 304.5 245.5 305.0 246.8C305.4 248.0 305.5 248.9 306.0 250.1C306.4 251.4 306.8 252.2 307.3 253.3C307.8 254.4 307.9 255.8 308.5 256.0C309.0 256.2 309.5 255.1 310.2 254.5C310.8 253.9 311.2 253.3 311.8 252.6C312.5 252.0 312.9 251.8 313.5 251.1C314.2 250.5 314.5 250.2 315.2 249.3C315.9 248.4 316.4 247.4 317.1 246.4C317.8 245.5 318.3 243.9 318.9 244.2C319.5 244.6 319.7 246.8 320.3 248.3C320.8 249.7 321.1 251.6 321.6 251.8C322.1 252.0 322.6 250.3 323.1 249.5C323.7 248.7 323.9 247.7 324.5 247.6C325.0 247.5 325.5 248.6 326.1 249.1C326.8 249.6 327.2 250.3 327.8 250.1C328.5 249.9 328.9 248.7 329.5 247.9C330.1 247.1 330.6 245.4 331.2 245.9C331.7 246.4 331.9 248.9 332.4 250.5C332.8 252.1 333.0 253.1 333.4 254.3C333.7 255.5 334.0 256.1 334.4 256.8C334.8 257.6 335.0 258.9 335.4 258.5C335.8 258.1 336.1 256.1 336.6 254.7C337.0 253.2 337.1 252.5 337.6 251.0C338.0 249.4 338.3 248.0 338.7 246.4C339.2 244.8 339.5 242.4 339.9 242.6C340.4 242.8 340.7 245.7 341.1 247.4C341.5 249.2 341.7 250.0 342.1 251.8C342.5 253.6 342.7 255.1 343.1 256.8C343.5 258.6 343.7 261.4 344.1 261.1C344.5 260.7 344.9 257.1 345.3 254.8C345.7 252.6 345.8 251.0 346.3 249.3C346.8 247.6 347.7 246.6 348.0 245.9" fill="none" stroke="#848484" stroke-width="3.6" stroke-linejoin="round" stroke-linecap="round"/>
<path d="M201.3 320.6C201.6 321.3 202.1 322.0 202.8 324.4C203.4 326.8 203.9 330.8 204.7 333.0C205.4 335.2 205.8 335.7 206.6 335.9C207.4 336.1 208.1 334.5 209.0 334.0C209.9 333.4 210.5 333.4 211.4 333.0C212.3 332.7 212.9 331.9 213.8 332.1C214.7 332.2 215.3 334.2 216.2 334.0C217.1 333.8 217.7 331.5 218.6 331.1C219.5 330.7 220.1 331.3 221.0 332.1C221.9 332.8 222.6 333.8 223.4 334.9C224.2 336.0 224.9 337.3 225.3 337.8" fill="none" stroke="#111" stroke-width="2.0" stroke-linejoin="round" stroke-linecap="butt" stroke-dasharray="2 1.9"/>
<path d="M245.7 328.9C246.3 330.0 247.5 334.3 248.7 334.6C249.8 334.8 250.5 329.5 251.6 330.1C252.7 330.6 253.4 337.3 254.5 337.3C255.6 337.3 256.3 331.2 257.4 330.3C258.5 329.4 259.2 331.0 260.3 332.4C261.5 333.9 262.2 337.8 263.3 337.9C264.4 337.9 265.1 332.3 266.2 332.7C267.3 333.1 268.0 339.2 269.1 340.0C270.2 340.8 270.9 338.9 272.0 337.1C273.1 335.3 273.9 329.7 275.0 330.3C276.1 330.9 276.8 340.2 277.9 340.2C279.0 340.1 279.7 330.5 280.8 329.9C281.9 329.2 282.6 336.7 283.7 336.6C284.8 336.5 285.5 330.3 286.7 329.3C287.8 328.4 288.5 331.3 289.6 331.6C290.7 331.9 291.4 329.4 292.5 330.8C293.6 332.1 294.3 338.9 295.4 338.7C296.5 338.5 297.2 329.5 298.3 329.6C299.5 329.6 300.2 338.6 301.3 338.9C302.4 339.1 303.1 332.2 304.2 331.0C305.3 329.8 306.0 331.2 307.1 332.6C308.2 334.0 308.9 338.3 310.0 338.2C311.2 338.1 311.9 331.9 313.0 332.1C314.1 332.3 314.8 339.7 315.9 339.2C317.0 338.6 317.7 329.5 318.8 329.2C319.9 328.9 320.6 336.3 321.7 337.7C322.8 339.0 323.5 338.2 324.7 336.6C325.8 334.9 326.5 328.7 327.6 328.8C328.7 329.0 329.4 337.1 330.5 337.3C331.6 337.5 332.3 329.9 333.4 329.9C334.5 329.9 335.2 337.1 336.3 337.4C337.5 337.7 338.2 330.8 339.3 331.2C340.4 331.6 341.1 339.4 342.2 339.5C343.3 339.7 344.0 332.1 345.1 331.9C346.2 331.7 347.5 337.1 348.0 338.4" fill="none" stroke="#111" stroke-width="2.0" stroke-linejoin="round" stroke-linecap="butt" stroke-dasharray="2 1.9"/>
<path d="M201.3 319.6C201.5 319.4 201.8 316.8 202.3 318.6C202.7 320.5 203.1 325.5 203.7 329.2C204.4 332.8 204.9 337.1 205.6 337.8C206.4 338.5 206.8 332.8 207.6 333.0C208.3 333.2 208.7 339.1 209.5 338.8C210.2 338.4 210.6 332.0 211.4 331.1C212.2 330.2 212.9 333.8 213.8 334.0C214.7 334.2 215.3 333.0 216.2 332.1C217.1 331.2 217.7 330.1 218.6 329.2C219.5 328.3 220.2 327.1 221.0 327.3C221.8 327.4 222.1 328.0 222.9 330.1C223.7 332.3 224.8 337.1 225.3 338.8" fill="none" stroke="#0a0a0a" stroke-width="1.5" stroke-linejoin="round" stroke-linecap="round"/>
<path d="M245.7 340.9C246.3 339.2 247.7 331.5 248.9 331.9C250.1 332.2 250.9 343.1 252.1 342.9C253.3 342.8 254.1 331.6 255.3 330.9C256.5 330.2 257.3 337.5 258.5 339.3C259.7 341.1 260.5 342.0 261.7 340.3C262.9 338.6 263.7 329.9 264.9 330.3C266.1 330.7 266.9 339.7 268.1 342.4C269.3 345.2 270.1 346.4 271.3 344.7C272.5 343.0 273.3 334.2 274.5 333.4C275.7 332.5 276.5 340.0 277.7 340.0C278.9 340.1 279.7 332.8 280.9 333.7C282.1 334.5 282.9 344.8 284.1 344.4C285.3 344.0 286.1 332.4 287.3 331.6C288.5 330.8 289.3 339.8 290.5 340.2C291.7 340.6 292.5 332.8 293.7 333.6C294.9 334.4 295.7 344.7 296.9 344.4C298.1 344.0 298.9 331.6 300.1 331.7C301.3 331.8 302.1 344.4 303.3 344.8C304.5 345.2 305.3 333.7 306.5 333.7C307.7 333.8 308.5 343.8 309.7 345.3C310.9 346.8 311.7 344.1 312.9 341.9C314.1 339.6 314.9 332.9 316.1 333.6C317.3 334.4 318.1 343.7 319.3 345.8C320.5 347.9 321.2 347.5 322.5 344.7C323.7 341.9 324.4 331.9 325.7 331.1C326.9 330.2 327.6 340.0 328.9 340.4C330.1 340.8 330.8 332.7 332.1 333.1C333.3 333.5 334.0 342.6 335.3 342.5C336.5 342.4 337.2 332.9 338.5 332.7C339.7 332.6 340.4 341.8 341.6 341.8C342.9 341.8 343.6 332.8 344.8 332.8C346.1 332.7 347.4 339.8 348.0 341.5" fill="none" stroke="#0a0a0a" stroke-width="1.5" stroke-linejoin="round" stroke-linecap="round"/>
<path d="M201.3 321.5C201.5 321.1 201.8 318.3 202.3 319.6C202.7 320.9 203.2 325.3 203.7 328.2C204.3 331.1 204.6 334.4 205.2 334.9C205.7 335.5 206.0 332.0 206.6 331.1C207.1 330.2 207.5 329.1 208.0 330.1C208.6 331.2 208.8 335.9 209.5 336.9C210.1 337.8 210.7 335.7 211.4 334.9C212.1 334.2 212.4 333.9 213.3 333.0C214.2 332.1 215.1 331.1 216.2 330.1C217.3 329.2 218.1 328.5 219.1 328.2C220.1 328.0 220.6 328.2 221.5 328.7C222.3 329.3 222.7 329.4 223.4 331.1C224.0 332.8 224.4 335.6 224.8 337.8C225.3 340.0 225.6 341.7 225.8 342.6" fill="none" stroke="#0a0a0a" stroke-width="4.0" stroke-linejoin="round" stroke-linecap="round"/>
<path d="M245.7 348.4C246.4 345.5 248.0 334.2 249.4 333.2C250.8 332.1 251.7 343.8 253.1 342.9C254.5 342.1 255.4 327.6 256.8 328.5C258.2 329.5 259.0 347.6 260.4 348.0C261.8 348.4 262.7 333.9 264.1 330.6C265.5 327.3 266.4 328.4 267.8 330.8C269.2 333.3 270.1 342.7 271.5 343.4C272.9 344.1 273.7 333.6 275.1 334.6C276.5 335.5 277.4 349.5 278.8 348.5C280.2 347.6 281.8 333.1 282.5 329.5" fill="none" stroke="#0a0a0a" stroke-width="4.0" stroke-linejoin="round" stroke-linecap="round"/>
<path d="M282.5 336.0C283.3 337.3 285.2 343.6 286.9 343.0C288.5 342.4 289.6 334.3 291.2 333.0C292.9 331.7 293.9 334.5 295.6 335.9C297.3 337.4 298.3 340.9 300.0 340.5C301.6 340.1 302.7 333.7 304.3 333.7C306.0 333.8 307.0 340.5 308.7 340.6C310.4 340.7 311.4 333.8 313.1 334.1C314.7 334.4 315.8 341.8 317.4 342.3C319.1 342.8 320.2 338.0 321.8 336.6C323.5 335.3 324.5 332.6 326.2 335.1C327.8 337.6 328.9 348.1 330.6 349.7C332.2 351.3 333.3 346.2 334.9 343.5C336.6 340.8 337.6 337.1 339.3 335.6C341.0 334.0 342.0 335.9 343.7 335.4C345.3 334.9 347.2 333.3 348.0 332.8" fill="none" stroke="#0a0a0a" stroke-width="4.0" stroke-linejoin="round" stroke-linecap="round"/>
<path d="M201.3 323.4C201.7 324.7 202.5 327.8 203.2 330.1C204.0 332.5 204.4 334.1 205.2 335.9C205.9 337.7 206.3 339.6 207.1 339.7C207.8 339.9 208.3 337.8 209.0 336.9C209.7 335.9 210.1 334.8 210.9 334.9C211.7 335.1 212.4 337.6 213.3 337.8C214.2 338.0 214.8 336.1 215.7 335.9C216.6 335.7 217.2 336.3 218.1 336.9C219.0 337.4 219.8 337.7 220.5 338.8C221.2 339.9 221.4 342.6 221.9 342.6C222.5 342.6 222.8 339.9 223.4 338.8C223.9 337.7 224.5 337.2 224.8 336.9" fill="none" stroke="#868686" stroke-width="1.6" stroke-linejoin="round" stroke-linecap="round"/>
<path d="M245.7 341.0C246.4 341.1 247.8 342.7 249.1 341.5C250.4 340.3 251.3 334.8 252.6 334.8C253.8 334.8 254.7 341.5 256.0 341.4C257.3 341.2 258.1 335.5 259.4 333.9C260.7 332.3 261.5 331.1 262.8 332.9C264.1 334.6 264.9 343.0 266.2 343.1C267.5 343.3 268.3 335.5 269.6 333.8C270.9 332.2 271.7 332.7 273.0 334.4C274.3 336.1 275.1 340.6 276.4 342.9C277.7 345.2 278.5 348.7 279.8 346.3C281.1 344.0 281.9 332.2 283.2 330.4C284.5 328.6 285.4 334.4 286.7 336.7C288.0 339.1 288.8 343.2 290.1 342.8C291.4 342.3 292.2 333.9 293.5 334.5C294.8 335.2 295.6 346.6 296.9 346.2C298.2 345.8 299.0 332.8 300.3 332.6C301.6 332.5 302.4 344.8 303.7 345.5C305.0 346.2 305.8 336.1 307.1 336.3C308.4 336.5 309.2 346.4 310.5 346.5C311.8 346.7 312.6 337.3 313.9 337.0C315.2 336.8 316.1 346.0 317.3 345.1C318.6 344.2 319.5 332.5 320.8 332.5C322.1 332.5 322.9 344.4 324.2 345.0C325.5 345.7 326.3 336.2 327.6 335.7C328.9 335.2 329.7 342.7 331.0 342.3C332.3 341.8 333.1 333.4 334.4 333.5C335.7 333.6 336.5 343.0 337.8 342.8C339.1 342.6 339.9 332.1 341.2 332.7C342.5 333.2 343.3 345.5 344.6 345.8C345.9 346.2 347.4 336.6 348.0 334.5" fill="none" stroke="#868686" stroke-width="1.6" stroke-linejoin="round" stroke-linecap="round"/>
</g>
<path d="M200.3 222.7 V378.0 H347.8" fill="none" stroke="#111" stroke-width="2"/>
<path d="M200.3 378.0 h-4" stroke="#111" stroke-width="1.6"/>
<text x="193.8" y="382.8" text-anchor="end">0</text>
<path d="M200.3 339.3 h-4" stroke="#111" stroke-width="1.6"/>
<text x="193.8" y="344.1" text-anchor="end">1</text>
<path d="M200.3 300.6 h-4" stroke="#111" stroke-width="1.6"/>
<text x="193.8" y="305.4" text-anchor="end">2</text>
<path d="M200.3 261.9 h-4" stroke="#111" stroke-width="1.6"/>
<text x="193.8" y="266.7" text-anchor="end">3</text>
<path d="M200.3 223.2 h-4" stroke="#111" stroke-width="1.6"/>
<text x="193.8" y="228.0" text-anchor="end">4</text>
<path d="M206.6 378.0 v3.1" stroke="#111" stroke-width="1.6"/>
<path d="M221.3 378.0 v3.1" stroke="#111" stroke-width="1.6"/>
<path d="M236.0 378.0 v3.1" stroke="#111" stroke-width="1.6"/>
<path d="M250.7 378.0 v3.1" stroke="#111" stroke-width="1.6"/>
<path d="M265.4 378.0 v3.1" stroke="#111" stroke-width="1.6"/>
<path d="M280.1 378.0 v3.1" stroke="#111" stroke-width="1.6"/>
<path d="M294.8 378.0 v3.1" stroke="#111" stroke-width="1.6"/>
<path d="M309.5 378.0 v3.1" stroke="#111" stroke-width="1.6"/>
<path d="M324.2 378.0 v3.1" stroke="#111" stroke-width="1.6"/>
<path d="M338.9 378.0 v3.1" stroke="#111" stroke-width="1.6"/>
<text x="236.0" y="394.9" text-anchor="middle">0</text>
<text x="265.4" y="394.9" text-anchor="middle">1</text>
<text x="294.8" y="394.9" text-anchor="middle">2</text>
<text x="324.2" y="394.9" text-anchor="middle">3</text>
<text x="230.5" y="237.0">U73122 (1 μM)</text></g>
<g><clipPath id="cp6"><rect x="0" y="0" width="521.0" height="417"/></clipPath>
<g clip-path="url(#cp6)">
<path d="M372.3 333.8C372.6 334.5 373.1 336.3 373.8 337.6C374.4 338.9 374.8 339.7 375.7 340.5C376.6 341.3 377.5 341.8 378.6 341.9C379.6 342.0 380.5 341.6 381.4 341.0C382.3 340.3 382.5 338.5 383.3 338.6C384.2 338.7 384.8 341.1 385.7 341.5C386.7 341.8 387.3 341.6 388.1 340.5C389.0 339.4 389.3 336.2 390.1 335.7C390.8 335.1 391.3 338.5 392.0 337.6C392.6 336.7 392.9 331.3 393.4 330.9C394.0 330.5 394.3 335.3 394.9 335.7C395.4 336.1 396.0 333.4 396.3 332.8" fill="none" stroke="#868686" stroke-width="1.6" stroke-linejoin="round" stroke-linecap="round"/>
<path d="M412.0 336.8C412.2 337.4 412.7 339.0 413.1 340.2C413.5 341.4 413.8 341.7 414.4 343.0C414.9 344.3 415.3 345.7 415.9 347.0C416.5 348.4 416.9 349.3 417.5 350.0C418.1 350.6 418.4 350.5 419.0 350.5C419.6 350.5 420.1 350.8 420.6 350.0C421.1 349.2 421.4 347.7 421.8 346.4C422.3 345.1 422.3 344.1 422.9 343.0C423.5 341.9 424.2 341.4 424.9 340.5C425.7 339.6 426.1 338.9 426.8 338.3C427.5 337.7 427.9 337.7 428.7 337.4C429.4 337.1 429.9 336.7 430.7 336.8C431.5 336.8 432.0 337.4 432.7 337.7C433.5 338.0 433.9 338.3 434.6 338.3C435.3 338.3 435.9 338.0 436.6 337.8C437.4 337.7 437.8 337.3 438.5 337.5C439.2 337.8 439.8 338.7 440.5 339.2C441.3 339.8 441.7 340.8 442.4 340.6C443.1 340.5 443.5 339.2 444.1 338.5C444.8 337.7 445.2 337.3 445.8 336.8C446.4 336.2 446.7 336.1 447.2 335.8C447.8 335.5 448.1 335.1 448.6 335.2C449.2 335.3 449.6 336.0 450.2 336.4C450.8 336.9 451.2 337.7 451.8 337.5C452.3 337.3 452.7 336.1 453.3 335.3C453.9 334.6 454.3 334.1 454.9 333.6C455.5 333.1 455.8 333.0 456.4 332.7C457.0 332.4 457.3 331.6 458.0 332.1C458.7 332.5 459.0 334.7 460.0 335.2C461.0 335.6 461.9 334.1 463.1 334.4C464.3 334.7 465.0 335.9 466.2 336.8C467.4 337.6 468.2 338.2 469.4 339.1C470.5 340.0 471.3 341.3 472.5 341.4C473.7 341.6 474.8 339.5 475.6 339.9C476.4 340.2 476.4 342.1 476.8 343.3C477.3 344.5 477.5 345.9 477.9 346.1C478.4 346.3 478.7 345.0 479.2 344.4C479.6 343.8 479.5 343.8 480.3 343.0C481.1 342.1 482.3 340.8 483.4 339.9C484.4 339.0 484.7 338.0 485.7 338.3C486.7 338.6 487.6 340.4 488.8 341.4C490.0 342.5 490.8 343.8 491.9 343.8C493.1 343.8 494.2 342.5 495.1 341.4C495.9 340.4 495.9 339.3 496.3 338.2C496.8 337.0 497.0 336.1 497.4 335.2C497.8 334.3 498.2 334.1 498.6 333.5C499.1 332.9 499.3 331.9 499.7 332.1C500.2 332.3 500.5 333.7 501.0 334.6C501.4 335.5 501.4 335.7 502.1 336.8C502.7 337.8 503.5 339.9 504.4 339.9C505.3 339.9 505.7 336.8 506.8 336.8C507.8 336.8 508.7 339.9 509.9 339.9C511.1 339.9 511.8 336.5 513.0 336.8C514.2 337.0 514.8 340.8 516.1 341.4C517.4 342.0 519.3 340.2 520.0 339.9" fill="none" stroke="#868686" stroke-width="1.6" stroke-linejoin="round" stroke-linecap="round"/>
<path d="M372.3 333.8C372.8 334.1 373.7 335.1 374.7 335.7C375.7 336.2 376.5 336.3 377.6 336.7C378.7 337.0 379.4 337.4 380.5 337.6C381.6 337.8 382.3 337.8 383.3 337.6C384.4 337.4 385.3 337.2 386.2 336.7C387.1 336.1 387.4 335.6 388.1 334.7C388.9 333.8 389.3 333.0 390.1 331.9C390.8 330.8 391.2 329.7 392.0 329.0C392.8 328.3 393.4 327.7 394.4 328.0C395.4 328.3 396.7 330.0 397.3 330.4" fill="none" stroke="#848484" stroke-width="3.6" stroke-linejoin="round" stroke-linecap="round"/>
<path d="M412.8 311.8C413.1 311.5 413.8 310.7 414.4 310.3C414.9 309.8 415.3 309.4 415.9 309.5C416.5 309.6 416.9 310.4 417.5 310.9C418.1 311.3 418.5 312.4 419.0 311.8C419.6 311.3 419.8 309.3 420.3 307.9C420.7 306.6 420.9 305.2 421.4 304.8C421.8 304.4 422.2 305.6 422.6 305.9C423.1 306.2 423.3 307.1 423.7 306.4C424.1 305.7 424.5 303.6 424.9 302.2C425.4 300.7 425.6 299.4 426.0 298.6C426.5 297.7 426.8 297.9 427.3 297.6C427.7 297.3 427.9 297.7 428.4 297.0C428.8 296.3 429.2 294.9 429.6 293.9C430.1 292.9 430.4 293.3 430.7 291.6C431.0 289.8 430.9 286.6 431.4 284.8C431.9 283.0 432.6 282.4 433.2 282.1C433.8 281.7 434.0 282.6 434.5 282.8C435.0 283.0 435.3 283.7 436.0 283.0C436.6 282.2 437.1 280.3 437.8 279.0C438.5 277.6 439.0 276.4 439.6 275.7C440.2 274.9 440.6 275.1 441.1 274.9C441.6 274.8 441.9 273.8 442.4 274.8C442.8 275.8 443.2 278.3 443.6 280.2C444.1 282.1 444.3 285.0 444.7 284.8C445.1 284.6 445.4 281.0 445.8 279.0C446.2 276.9 446.4 275.0 446.9 273.8C447.4 272.7 447.9 273.3 448.4 273.1C448.9 272.9 449.1 272.7 449.7 272.9C450.2 273.2 450.6 274.1 451.1 274.6C451.6 275.1 452.0 276.3 452.4 275.7C452.9 275.0 453.1 272.7 453.5 271.1C453.9 269.5 454.1 267.9 454.6 267.4C455.1 267.0 455.5 268.2 456.1 268.5C456.6 268.9 456.9 269.6 457.5 269.3C458.1 269.0 458.6 267.8 459.2 266.9C459.8 266.0 460.1 265.8 460.6 264.7C461.2 263.6 461.6 262.3 462.1 261.1C462.6 259.8 462.9 257.9 463.4 258.3C463.8 258.7 464.0 261.5 464.5 263.2C464.9 265.0 465.0 267.3 465.6 267.4C466.1 267.6 466.6 265.2 467.2 264.0C467.8 262.8 468.3 261.8 468.8 261.1C469.4 260.3 469.8 260.3 470.3 260.0C470.8 259.6 471.1 259.3 471.6 259.2C472.1 259.2 472.5 259.6 473.0 259.8C473.6 260.0 473.8 260.0 474.3 260.1C474.8 260.3 475.3 260.5 475.8 260.7C476.3 260.9 476.5 260.7 477.1 261.1C477.7 261.4 478.2 262.2 478.9 262.7C479.6 263.2 480.1 264.7 480.7 263.8C481.3 262.9 481.7 259.9 482.2 257.8C482.7 255.7 482.9 253.5 483.5 252.8C484.0 252.2 484.4 254.0 484.9 254.5C485.4 255.0 485.7 255.1 486.2 255.6C486.7 256.1 487.1 256.7 487.7 257.2C488.2 257.7 488.4 258.3 488.9 258.3C489.5 258.3 489.9 257.6 490.4 257.2C490.9 256.9 491.3 257.4 491.7 256.5C492.1 255.6 492.2 253.8 492.6 252.3C492.9 250.7 493.2 250.1 493.5 248.3C493.9 246.4 494.1 244.5 494.4 242.4C494.8 240.3 494.9 237.8 495.3 237.3C495.8 236.8 496.3 239.0 496.8 239.9C497.3 240.7 497.6 241.7 498.1 241.9C498.6 242.0 499.0 241.1 499.5 240.8C500.1 240.4 500.3 239.4 500.8 240.0C501.3 240.7 501.8 242.7 502.3 244.1C502.8 245.5 503.0 246.9 503.6 247.4C504.1 247.8 504.5 246.6 505.0 246.3C505.5 245.9 505.8 246.2 506.3 245.5C506.8 244.8 507.2 243.6 507.8 242.6C508.3 241.6 508.6 240.9 509.0 240.0C509.5 239.2 509.7 238.7 510.1 238.0C510.5 237.3 510.8 236.5 511.2 236.4C511.7 236.3 512.1 237.1 512.5 237.5C513.0 237.8 513.1 237.6 513.6 238.2C514.1 238.8 514.5 239.9 515.1 240.8C515.6 241.6 515.8 242.1 516.3 242.8C516.9 243.5 517.5 244.4 518.2 244.6C518.9 244.8 519.6 243.9 520.0 243.7" fill="none" stroke="#848484" stroke-width="3.6" stroke-linejoin="round" stroke-linecap="round"/>
<path d="M373.3 322.3C373.7 322.8 374.7 325.7 375.7 325.1C376.7 324.6 377.6 320.7 378.6 319.4C379.5 318.1 379.6 318.2 380.5 318.4C381.4 318.6 382.3 319.8 383.3 320.3C384.4 320.9 385.3 321.9 386.2 321.3C387.1 320.8 387.2 318.4 388.1 317.5C389.1 316.6 390.0 316.5 391.0 316.5C392.0 316.5 392.5 317.5 393.4 317.5C394.3 317.5 395.4 316.7 395.8 316.5" fill="none" stroke="#111" stroke-width="2.0" stroke-linejoin="round" stroke-linecap="butt" stroke-dasharray="2 1.9"/>
<path d="M412.8 323.6C413.2 323.0 414.2 321.0 415.1 320.4C416.0 319.9 416.4 319.7 417.5 320.5C418.5 321.3 419.5 324.3 420.6 324.5C421.6 324.8 422.0 320.8 422.9 321.6C423.8 322.4 424.4 328.3 425.3 328.7C426.1 329.2 426.7 324.1 427.6 323.8C428.5 323.5 429.0 327.4 429.9 327.1C430.8 326.8 431.4 322.7 432.3 322.2C433.2 321.7 433.7 324.9 434.6 324.4C435.5 324.0 436.1 320.2 436.9 319.7C437.8 319.2 438.4 322.6 439.3 321.9C440.2 321.1 440.7 317.6 441.6 315.9C442.5 314.2 443.1 313.3 444.0 313.0C444.8 312.7 445.4 315.0 446.3 314.3C447.2 313.7 447.6 310.8 448.6 309.6C449.7 308.4 450.9 306.4 451.8 307.9C452.6 309.3 452.7 313.8 453.3 317.1C453.9 320.4 454.3 325.3 454.9 325.3C455.5 325.3 455.8 319.8 456.4 317.1C457.0 314.4 457.3 313.1 458.0 310.9C458.7 308.8 459.3 306.1 460.0 305.9C460.7 305.7 461.0 308.6 461.6 309.9C462.2 311.3 462.5 311.3 463.1 313.0C463.7 314.7 464.1 316.8 464.7 318.9C465.3 320.9 465.6 323.6 466.2 323.8C466.8 323.9 467.2 321.0 467.8 319.5C468.4 318.0 468.8 317.4 469.4 315.8C469.9 314.3 470.2 312.8 470.6 311.2C471.0 309.6 471.2 308.8 471.7 307.5C472.1 306.1 472.5 305.3 472.9 304.2C473.4 303.0 473.7 300.9 474.0 301.4C474.4 302.0 474.5 305.3 474.8 307.2C475.1 309.2 475.2 310.3 475.6 311.7C476.0 313.2 476.4 314.0 476.8 315.1C477.3 316.2 477.5 317.5 477.9 317.5C478.4 317.6 478.7 316.2 479.2 315.5C479.6 314.8 479.8 314.1 480.3 314.0C480.8 314.0 481.2 314.7 481.8 315.0C482.4 315.4 482.8 315.0 483.4 315.8C484.0 316.6 484.3 318.0 484.9 319.2C485.5 320.4 486.0 321.9 486.5 321.9C487.0 321.9 487.3 320.1 487.7 319.2C488.2 318.3 488.4 318.0 488.8 317.0C489.3 316.0 489.6 314.9 490.1 313.7C490.5 312.6 490.7 311.5 491.2 310.9C491.6 310.2 492.0 310.5 492.4 310.3C492.9 310.2 493.0 309.7 493.5 310.0C494.0 310.3 494.5 311.4 495.1 312.0C495.7 312.6 496.1 312.7 496.6 313.2C497.2 313.8 497.4 314.5 497.9 315.0C498.3 315.6 498.5 316.3 499.0 316.1C499.4 315.9 499.8 314.7 500.2 314.1C500.6 313.4 500.9 312.5 501.3 312.6C501.7 312.7 502.1 313.9 502.5 314.6C503.0 315.3 503.1 315.6 503.6 316.3C504.1 317.1 504.6 317.7 505.2 318.4C505.8 319.1 506.2 319.3 506.8 320.0C507.3 320.6 507.7 321.2 508.3 321.9C508.9 322.6 509.3 324.1 509.9 323.6C510.5 323.0 510.8 320.6 511.4 319.0C512.0 317.3 512.4 314.6 513.0 315.1C513.6 315.7 514.0 319.4 514.5 321.7C515.1 323.9 515.4 325.5 516.1 327.0C516.8 328.6 518.0 329.4 518.4 330.0" fill="none" stroke="#111" stroke-width="2.0" stroke-linejoin="round" stroke-linecap="butt" stroke-dasharray="2 1.9"/>
<path d="M372.3 315.6C372.8 315.9 373.7 316.2 374.7 317.5C375.7 318.7 376.7 320.4 377.6 322.3C378.5 324.1 378.8 327.2 379.5 327.1C380.2 326.9 380.7 323.3 381.4 321.3C382.2 319.3 382.6 317.6 383.3 316.5C384.1 315.4 384.6 314.3 385.3 315.6C385.9 316.8 386.1 321.0 386.7 323.2C387.3 325.4 387.9 328.0 388.6 327.1C389.4 326.2 389.8 320.9 390.5 318.4C391.3 316.0 391.7 314.7 392.5 314.1C393.2 313.6 393.7 314.4 394.4 315.6C395.0 316.7 395.3 318.4 395.8 320.3C396.4 322.3 397.0 324.6 397.3 325.6" fill="none" stroke="#0a0a0a" stroke-width="1.5" stroke-linejoin="round" stroke-linecap="round"/>
<path d="M413.6 321.2C413.9 322.3 414.5 327.7 415.1 327.3C415.7 327.0 415.9 319.7 416.7 319.2C417.4 318.6 418.1 324.8 419.0 324.4C419.9 324.1 420.5 317.5 421.4 317.3C422.3 317.2 422.8 323.7 423.7 323.5C424.6 323.4 425.1 316.0 426.0 316.4C426.9 316.8 427.5 326.3 428.4 325.7C429.3 325.1 429.8 314.1 430.7 313.3C431.6 312.5 432.2 322.1 433.1 321.5C433.9 320.9 434.6 309.3 435.4 310.0C436.2 310.6 436.5 324.6 437.3 324.8C438.0 325.1 438.5 310.4 439.3 311.2C440.1 312.0 440.7 328.0 441.6 329.2C442.5 330.5 443.2 317.5 444.0 317.8C444.8 318.0 445.1 329.6 445.8 330.4C446.6 331.3 447.0 325.9 447.9 322.3C448.7 318.8 449.3 311.7 450.2 311.7C451.1 311.7 451.6 322.8 452.5 322.4C453.4 322.0 454.0 310.0 454.9 309.7C455.8 309.3 456.3 320.1 457.2 320.5C458.1 321.0 459.0 314.5 459.5 312.1C460.1 309.8 459.5 307.6 460.0 308.1C460.5 308.5 461.4 312.1 462.3 314.5C463.2 316.9 463.8 320.2 464.7 320.6C465.6 321.0 466.1 318.2 467.0 316.6C467.9 315.0 468.5 311.8 469.4 312.2C470.2 312.5 470.8 316.4 471.7 318.4C472.6 320.3 473.1 322.5 474.0 322.4C474.9 322.3 475.5 318.4 476.4 317.9C477.3 317.4 477.8 320.6 478.7 319.8C479.6 319.0 480.1 313.6 481.0 313.6C481.9 313.6 482.5 318.0 483.4 320.0C484.3 322.0 484.8 324.1 485.7 324.2C486.6 324.3 487.2 320.0 488.1 320.3C488.9 320.6 489.5 325.8 490.4 325.8C491.3 325.8 491.8 322.3 492.7 320.5C493.6 318.7 494.2 317.6 495.1 316.4C496.0 315.2 496.5 315.4 497.4 314.2C498.3 313.0 498.9 312.5 499.7 310.1C500.6 307.8 501.0 301.4 501.8 301.8C502.5 302.3 502.8 308.8 503.6 312.5C504.4 316.1 505.1 320.5 506.0 321.0C506.9 321.4 507.4 314.3 508.3 314.8C509.2 315.2 509.8 323.6 510.6 323.2C511.5 322.8 512.1 313.5 513.0 312.7C513.9 311.8 514.4 318.6 515.3 318.8C516.2 319.1 516.8 313.5 517.7 314.2C518.5 314.9 519.6 320.9 520.0 322.4" fill="none" stroke="#0a0a0a" stroke-width="1.5" stroke-linejoin="round" stroke-linecap="round"/>
<path d="M372.3 329.9C372.8 330.3 373.8 331.3 374.7 331.9C375.6 332.4 376.2 333.0 377.1 332.8C378.0 332.6 378.7 331.8 379.5 330.9C380.3 330.0 380.7 328.0 381.4 328.0C382.2 328.0 382.6 329.8 383.3 330.9C384.1 332.0 384.5 334.0 385.3 333.8C386.0 333.6 386.5 331.4 387.2 329.9C387.9 328.5 388.4 327.4 389.1 326.1C389.8 324.8 390.3 324.3 391.0 323.2C391.8 322.1 392.2 321.3 392.9 320.3C393.7 319.4 394.1 319.0 394.9 318.4C395.6 317.9 396.4 317.7 396.8 317.5" fill="none" stroke="#0a0a0a" stroke-width="4.0" stroke-linejoin="round" stroke-linecap="round"/>
<path d="M412.0 335.0C412.3 335.8 413.1 338.7 413.8 339.6C414.5 340.5 414.9 339.1 415.6 339.6C416.2 340.2 416.7 342.1 417.3 342.5C418.0 342.9 418.4 341.3 419.1 341.7C419.8 342.2 420.2 344.9 420.9 344.9C421.5 344.9 422.0 342.9 422.6 341.5C423.3 340.1 423.7 339.9 424.4 337.7C425.1 335.5 425.5 331.1 426.2 329.9C426.8 328.8 427.3 331.8 427.9 331.8C428.6 331.7 429.0 329.6 429.7 329.7C430.4 329.9 430.8 332.4 431.5 332.8C432.2 333.2 432.6 331.5 433.3 331.8C433.9 332.1 434.4 334.3 435.0 334.3C435.7 334.2 436.1 331.6 436.8 331.5C437.5 331.4 437.9 333.9 438.6 333.6C439.2 333.3 439.7 330.5 440.3 329.8C441.0 329.1 441.4 329.6 442.1 329.9C442.8 330.2 443.2 331.4 443.9 331.4C444.5 331.3 445.0 328.1 445.6 329.8C446.3 331.5 446.7 337.4 447.4 340.3C448.1 343.3 448.5 345.7 449.2 345.3C449.9 345.0 450.3 340.0 451.0 338.4C451.6 336.8 452.1 338.0 452.7 336.8C453.4 335.6 453.8 332.8 454.5 332.1C455.2 331.4 455.6 333.4 456.3 333.2C456.9 333.1 457.4 331.2 458.0 331.2C458.7 331.2 459.1 333.1 459.8 333.1C460.5 333.0 460.9 331.5 461.6 330.9C462.3 330.3 462.7 329.6 463.3 329.8C464.0 330.0 464.4 332.3 465.1 332.1C465.8 331.9 466.2 329.8 466.9 328.8C467.6 327.8 468.0 326.8 468.7 326.8C469.3 326.8 469.8 328.6 470.4 328.8C471.1 328.9 471.5 327.1 472.2 327.8C472.9 328.4 473.3 330.3 474.0 332.4C474.6 334.4 475.1 338.4 475.7 338.3C476.4 338.3 476.8 333.6 477.5 332.3C478.2 331.0 478.6 332.0 479.3 331.5C480.0 331.0 480.4 329.9 481.1 329.8C481.7 329.7 482.1 331.4 482.8 330.9C483.5 330.5 483.9 327.4 484.6 327.2C485.3 327.0 485.7 329.2 486.4 330.0C487.0 330.8 487.5 330.0 488.1 331.6C488.8 333.2 489.2 337.9 489.9 338.4C490.6 338.8 491.0 335.4 491.7 334.0C492.3 332.6 492.8 332.7 493.4 330.8C494.1 328.9 494.5 325.5 495.2 324.1C495.9 322.7 496.3 323.2 497.0 323.4C497.7 323.6 498.1 323.5 498.8 325.0C499.4 326.5 499.9 328.6 500.5 331.3C501.2 333.9 501.6 338.9 502.3 339.2C503.0 339.4 503.4 334.0 504.1 332.5C504.7 330.9 505.2 331.7 505.8 331.0C506.5 330.3 506.9 328.5 507.6 328.9C508.3 329.3 508.7 333.4 509.4 333.0C510.0 332.5 510.5 327.4 511.1 326.7C511.8 325.9 512.2 327.2 512.9 328.9C513.6 330.6 514.0 334.2 514.7 335.6C515.4 337.0 515.8 336.0 516.5 336.2C517.1 336.4 517.6 336.9 518.2 336.6C518.9 336.3 519.7 335.0 520.0 334.6" fill="none" stroke="#0a0a0a" stroke-width="4.0" stroke-linejoin="round" stroke-linecap="round"/>
</g>
<path d="M372.0 222.7 V378.0 H520.0" fill="none" stroke="#111" stroke-width="2"/>
<path d="M372.0 378.0 h-4" stroke="#111" stroke-width="1.6"/>
<text x="363.1" y="382.8" text-anchor="end">0</text>
<path d="M372.0 339.3 h-4" stroke="#111" stroke-width="1.6"/>
<text x="363.1" y="344.1" text-anchor="end">1</text>
<path d="M372.0 300.6 h-4" stroke="#111" stroke-width="1.6"/>
<text x="363.1" y="305.4" text-anchor="end">2</text>
<path d="M372.0 261.9 h-4" stroke="#111" stroke-width="1.6"/>
<text x="363.1" y="266.7" text-anchor="end">3</text>
<path d="M372.0 223.2 h-4" stroke="#111" stroke-width="1.6"/>
<text x="363.1" y="228.0" text-anchor="end">4</text>
<path d="M375.6 378.0 v3.1" stroke="#111" stroke-width="1.6"/>
<path d="M390.3 378.0 v3.1" stroke="#111" stroke-width="1.6"/>
<path d="M405.0 378.0 v3.1" stroke="#111" stroke-width="1.6"/>
<path d="M419.7 378.0 v3.1" stroke="#111" stroke-width="1.6"/>
<path d="M434.4 378.0 v3.1" stroke="#111" stroke-width="1.6"/>
<path d="M449.1 378.0 v3.1" stroke="#111" stroke-width="1.6"/>
<path d="M463.8 378.0 v3.1" stroke="#111" stroke-width="1.6"/>
<path d="M478.5 378.0 v3.1" stroke="#111" stroke-width="1.6"/>
<path d="M493.2 378.0 v3.1" stroke="#111" stroke-width="1.6"/>
<path d="M507.9 378.0 v3.1" stroke="#111" stroke-width="1.6"/>
<text x="405.0" y="394.9" text-anchor="middle">0</text>
<text x="434.4" y="394.9" text-anchor="middle">1</text>
<text x="463.8" y="394.9" text-anchor="middle">2</text>
<text x="493.2" y="394.9" text-anchor="middle">3</text>
<text x="387.0" y="232.0">SKF96365 (100 μM)</text></g>
<g><path d="M15.5 11.8 H35.8" stroke="#8c8c8c" stroke-width="2.4"/>
<text x="38" y="15.8">Mn<tspan dx="1" dy="-3.6" font-size="11.5">2+</tspan></text>
<path d="M78.8 11.8 H98.4" stroke="#111" stroke-width="1.6" stroke-dasharray="1.6 1.7"/>
<text x="102.5" y="15.8">RANTES</text>
<path d="M168.8 11.8 H190" stroke="#0a0a0a" stroke-width="3.4"/>
<text x="191.5" y="15.8">fMLP</text>
<path d="M235.5 11.8 H255" stroke="#0a0a0a" stroke-width="1.6"/>
<text x="258.3" y="15.8">SDF-1</text>
<path d="M310.5 11.8 H330" stroke="#8c8c8c" stroke-width="1.4"/>
<text x="333.8" y="15.8">Buffer</text></g>
<text x="274" y="410.6" text-anchor="middle">Time (minutes)</text>
<text transform="translate(12.4 198.5) rotate(-90)" text-anchor="middle" font-size="14.2">LDV-FITC Fluorescence</text>
</svg>
</body></html>
